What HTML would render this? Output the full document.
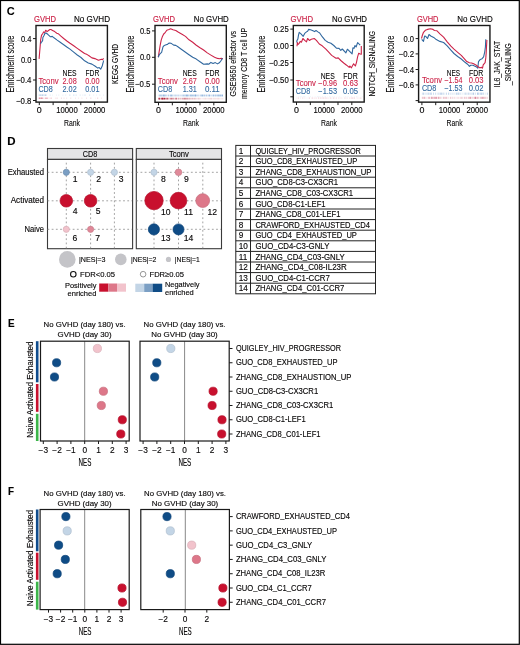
<!DOCTYPE html>
<html><head><meta charset="utf-8"><style>
html,body{margin:0;padding:0;background:#fff;overflow:hidden}
svg{display:block;will-change:transform}
text{font-family:"Liberation Sans", sans-serif}
</style></head><body>
<svg width="520" height="645" viewBox="0 0 520 645">
<rect x="0" y="0" width="520" height="645" fill="#fff"/>
<text x="6.70" y="15.30" font-size="11.6" fill="#000" textLength="8.00" lengthAdjust="spacingAndGlyphs" font-weight="bold">C</text>
<text x="34.00" y="22.00" font-size="8.6" fill="#cc2449" stroke="#cc2449" stroke-width="0.15" textLength="22.00" lengthAdjust="spacingAndGlyphs">GVHD</text>
<text x="74.00" y="22.00" font-size="8.6" stroke="#231f20" stroke-width="0.15" textLength="36.00" lengthAdjust="spacingAndGlyphs">No GVHD</text>
<rect x="36.00" y="25.50" width="71.40" height="76.60" fill="none" stroke="#1a1a1a" stroke-width="1.4"/>
<line x1="33.00" y1="38.60" x2="36.00" y2="38.60" stroke="#1a1a1a" stroke-width="1"/>
<text x="31.40" y="41.70" font-size="8.9" stroke="#231f20" stroke-width="0.15" text-anchor="end" textLength="10.50" lengthAdjust="spacingAndGlyphs">0.4</text>
<line x1="33.00" y1="59.50" x2="36.00" y2="59.50" stroke="#1a1a1a" stroke-width="1"/>
<text x="31.40" y="62.60" font-size="8.9" stroke="#231f20" stroke-width="0.15" text-anchor="end" textLength="10.50" lengthAdjust="spacingAndGlyphs">0.0</text>
<line x1="33.00" y1="80.00" x2="36.00" y2="80.00" stroke="#1a1a1a" stroke-width="1"/>
<text x="31.40" y="83.10" font-size="8.9" stroke="#231f20" stroke-width="0.15" text-anchor="end" textLength="15.40" lengthAdjust="spacingAndGlyphs">−0.4</text>
<line x1="33.00" y1="100.50" x2="36.00" y2="100.50" stroke="#1a1a1a" stroke-width="1"/>
<text x="31.40" y="103.60" font-size="8.9" stroke="#231f20" stroke-width="0.15" text-anchor="end" textLength="15.40" lengthAdjust="spacingAndGlyphs">−0.8</text>
<line x1="39.30" y1="102.10" x2="39.30" y2="105.10" stroke="#1a1a1a" stroke-width="1"/>
<line x1="53.13" y1="102.10" x2="53.13" y2="105.10" stroke="#1a1a1a" stroke-width="1"/>
<line x1="66.96" y1="102.10" x2="66.96" y2="105.10" stroke="#1a1a1a" stroke-width="1"/>
<line x1="80.79" y1="102.10" x2="80.79" y2="105.10" stroke="#1a1a1a" stroke-width="1"/>
<line x1="94.62" y1="102.10" x2="94.62" y2="105.10" stroke="#1a1a1a" stroke-width="1"/>
<text x="39.30" y="113.20" font-size="8.9" stroke="#231f20" stroke-width="0.15" text-anchor="middle">0</text>
<text x="66.96" y="113.20" font-size="8.9" stroke="#231f20" stroke-width="0.15" text-anchor="middle" textLength="21.50" lengthAdjust="spacingAndGlyphs">10000</text>
<text x="94.62" y="113.20" font-size="8.9" stroke="#231f20" stroke-width="0.15" text-anchor="middle" textLength="21.50" lengthAdjust="spacingAndGlyphs">20000</text>
<text x="72.00" y="125.90" font-size="9.9" stroke="#231f20" stroke-width="0.1" text-anchor="middle" textLength="16.00" lengthAdjust="spacingAndGlyphs">Rank</text>
<text x="14.10" y="64.10" font-size="10.0" stroke="#231f20" stroke-width="0.1" text-anchor="middle" textLength="57.00" lengthAdjust="spacingAndGlyphs" transform="rotate(-90 14.10 64.10)">Enrichment score</text>
<text x="117.60" y="63.90" font-size="9.9" stroke="#231f20" stroke-width="0.1" text-anchor="middle" textLength="40.00" lengthAdjust="spacingAndGlyphs" transform="rotate(-90 117.60 63.90)">KEGG GVHD</text>
<text x="153.00" y="22.00" font-size="8.6" fill="#cc2449" stroke="#cc2449" stroke-width="0.15" textLength="22.00" lengthAdjust="spacingAndGlyphs">GVHD</text>
<text x="193.80" y="22.00" font-size="8.6" stroke="#231f20" stroke-width="0.15" textLength="35.00" lengthAdjust="spacingAndGlyphs">No GVHD</text>
<rect x="155.00" y="25.45" width="71.30" height="76.85" fill="none" stroke="#1a1a1a" stroke-width="1.4"/>
<line x1="152.00" y1="30.90" x2="155.00" y2="30.90" stroke="#1a1a1a" stroke-width="1"/>
<text x="150.40" y="34.00" font-size="8.9" stroke="#231f20" stroke-width="0.15" text-anchor="end" textLength="10.50" lengthAdjust="spacingAndGlyphs">0.5</text>
<line x1="152.00" y1="57.30" x2="155.00" y2="57.30" stroke="#1a1a1a" stroke-width="1"/>
<text x="150.40" y="60.40" font-size="8.9" stroke="#231f20" stroke-width="0.15" text-anchor="end" textLength="10.50" lengthAdjust="spacingAndGlyphs">0.0</text>
<line x1="152.00" y1="84.20" x2="155.00" y2="84.20" stroke="#1a1a1a" stroke-width="1"/>
<text x="150.40" y="87.30" font-size="8.9" stroke="#231f20" stroke-width="0.15" text-anchor="end" textLength="15.40" lengthAdjust="spacingAndGlyphs">−0.5</text>
<line x1="158.50" y1="102.30" x2="158.50" y2="105.30" stroke="#1a1a1a" stroke-width="1"/>
<line x1="172.33" y1="102.30" x2="172.33" y2="105.30" stroke="#1a1a1a" stroke-width="1"/>
<line x1="186.16" y1="102.30" x2="186.16" y2="105.30" stroke="#1a1a1a" stroke-width="1"/>
<line x1="199.99" y1="102.30" x2="199.99" y2="105.30" stroke="#1a1a1a" stroke-width="1"/>
<line x1="213.82" y1="102.30" x2="213.82" y2="105.30" stroke="#1a1a1a" stroke-width="1"/>
<text x="158.50" y="113.20" font-size="8.9" stroke="#231f20" stroke-width="0.15" text-anchor="middle">0</text>
<text x="186.16" y="113.20" font-size="8.9" stroke="#231f20" stroke-width="0.15" text-anchor="middle" textLength="21.50" lengthAdjust="spacingAndGlyphs">10000</text>
<text x="213.82" y="113.20" font-size="8.9" stroke="#231f20" stroke-width="0.15" text-anchor="middle" textLength="21.50" lengthAdjust="spacingAndGlyphs">20000</text>
<text x="190.95" y="125.90" font-size="9.9" stroke="#231f20" stroke-width="0.1" text-anchor="middle" textLength="16.00" lengthAdjust="spacingAndGlyphs">Rank</text>
<text x="134.00" y="64.10" font-size="10.0" stroke="#231f20" stroke-width="0.1" text-anchor="middle" textLength="57.00" lengthAdjust="spacingAndGlyphs" transform="rotate(-90 134.00 64.10)">Enrichment score</text>
<text x="236.40" y="63.70" font-size="9.6" stroke="#231f20" stroke-width="0.1" text-anchor="middle" textLength="65.80" lengthAdjust="spacingAndGlyphs" transform="rotate(-90 236.40 63.70)">GSE9650 effector vs</text>
<text x="247.30" y="63.40" font-size="9.6" stroke="#231f20" stroke-width="0.1" text-anchor="middle" textLength="71.30" lengthAdjust="spacingAndGlyphs" transform="rotate(-90 247.30 63.40)">memory CD8 T cell UP</text>
<text x="290.60" y="22.00" font-size="8.6" fill="#cc2449" stroke="#cc2449" stroke-width="0.15" textLength="22.40" lengthAdjust="spacingAndGlyphs">GVHD</text>
<text x="332.00" y="22.00" font-size="8.6" stroke="#231f20" stroke-width="0.15" textLength="35.00" lengthAdjust="spacingAndGlyphs">No GVHD</text>
<rect x="293.30" y="25.50" width="70.90" height="76.55" fill="none" stroke="#1a1a1a" stroke-width="1.4"/>
<line x1="290.30" y1="29.10" x2="293.30" y2="29.10" stroke="#1a1a1a" stroke-width="1"/>
<text x="288.70" y="32.20" font-size="8.9" stroke="#231f20" stroke-width="0.15" text-anchor="end" textLength="15.00" lengthAdjust="spacingAndGlyphs">0.25</text>
<line x1="290.30" y1="45.50" x2="293.30" y2="45.50" stroke="#1a1a1a" stroke-width="1"/>
<text x="288.70" y="48.60" font-size="8.9" stroke="#231f20" stroke-width="0.15" text-anchor="end" textLength="15.00" lengthAdjust="spacingAndGlyphs">0.00</text>
<line x1="290.30" y1="62.50" x2="293.30" y2="62.50" stroke="#1a1a1a" stroke-width="1"/>
<text x="288.70" y="65.60" font-size="8.9" stroke="#231f20" stroke-width="0.15" text-anchor="end" textLength="19.60" lengthAdjust="spacingAndGlyphs">−0.25</text>
<line x1="290.30" y1="80.00" x2="293.30" y2="80.00" stroke="#1a1a1a" stroke-width="1"/>
<text x="288.70" y="83.10" font-size="8.9" stroke="#231f20" stroke-width="0.15" text-anchor="end" textLength="19.60" lengthAdjust="spacingAndGlyphs">−0.50</text>
<line x1="290.30" y1="96.80" x2="293.30" y2="96.80" stroke="#1a1a1a" stroke-width="1"/>
<line x1="296.50" y1="102.05" x2="296.50" y2="105.05" stroke="#1a1a1a" stroke-width="1"/>
<line x1="310.33" y1="102.05" x2="310.33" y2="105.05" stroke="#1a1a1a" stroke-width="1"/>
<line x1="324.16" y1="102.05" x2="324.16" y2="105.05" stroke="#1a1a1a" stroke-width="1"/>
<line x1="337.99" y1="102.05" x2="337.99" y2="105.05" stroke="#1a1a1a" stroke-width="1"/>
<line x1="351.82" y1="102.05" x2="351.82" y2="105.05" stroke="#1a1a1a" stroke-width="1"/>
<text x="296.50" y="113.20" font-size="8.9" stroke="#231f20" stroke-width="0.15" text-anchor="middle">0</text>
<text x="324.16" y="113.20" font-size="8.9" stroke="#231f20" stroke-width="0.15" text-anchor="middle" textLength="21.50" lengthAdjust="spacingAndGlyphs">10000</text>
<text x="351.82" y="113.20" font-size="8.9" stroke="#231f20" stroke-width="0.15" text-anchor="middle" textLength="21.50" lengthAdjust="spacingAndGlyphs">20000</text>
<text x="329.05" y="125.90" font-size="9.9" stroke="#231f20" stroke-width="0.1" text-anchor="middle" textLength="16.00" lengthAdjust="spacingAndGlyphs">Rank</text>
<text x="264.60" y="64.10" font-size="10.0" stroke="#231f20" stroke-width="0.1" text-anchor="middle" textLength="57.00" lengthAdjust="spacingAndGlyphs" transform="rotate(-90 264.60 64.10)">Enrichment score</text>
<text x="374.60" y="63.70" font-size="9.9" stroke="#231f20" stroke-width="0.1" text-anchor="middle" textLength="65.80" lengthAdjust="spacingAndGlyphs" transform="rotate(-90 374.60 63.70)">NOTCH_SIGNALING</text>
<text x="416.90" y="22.00" font-size="8.6" fill="#cc2449" stroke="#cc2449" stroke-width="0.15" textLength="21.60" lengthAdjust="spacingAndGlyphs">GVHD</text>
<text x="457.30" y="22.00" font-size="8.6" stroke="#231f20" stroke-width="0.15" textLength="35.40" lengthAdjust="spacingAndGlyphs">No GVHD</text>
<rect x="418.60" y="25.50" width="71.35" height="76.65" fill="none" stroke="#1a1a1a" stroke-width="1.4"/>
<line x1="415.60" y1="38.60" x2="418.60" y2="38.60" stroke="#1a1a1a" stroke-width="1"/>
<text x="414.00" y="41.70" font-size="8.9" stroke="#231f20" stroke-width="0.15" text-anchor="end" textLength="10.50" lengthAdjust="spacingAndGlyphs">0.0</text>
<line x1="415.60" y1="53.90" x2="418.60" y2="53.90" stroke="#1a1a1a" stroke-width="1"/>
<text x="414.00" y="57.00" font-size="8.9" stroke="#231f20" stroke-width="0.15" text-anchor="end" textLength="15.40" lengthAdjust="spacingAndGlyphs">−0.2</text>
<line x1="415.60" y1="69.50" x2="418.60" y2="69.50" stroke="#1a1a1a" stroke-width="1"/>
<text x="414.00" y="72.60" font-size="8.9" stroke="#231f20" stroke-width="0.15" text-anchor="end" textLength="15.40" lengthAdjust="spacingAndGlyphs">−0.4</text>
<line x1="415.60" y1="84.90" x2="418.60" y2="84.90" stroke="#1a1a1a" stroke-width="1"/>
<text x="414.00" y="88.00" font-size="8.9" stroke="#231f20" stroke-width="0.15" text-anchor="end" textLength="15.40" lengthAdjust="spacingAndGlyphs">−0.6</text>
<line x1="415.60" y1="100.60" x2="418.60" y2="100.60" stroke="#1a1a1a" stroke-width="1"/>
<line x1="421.90" y1="102.15" x2="421.90" y2="105.15" stroke="#1a1a1a" stroke-width="1"/>
<line x1="435.73" y1="102.15" x2="435.73" y2="105.15" stroke="#1a1a1a" stroke-width="1"/>
<line x1="449.56" y1="102.15" x2="449.56" y2="105.15" stroke="#1a1a1a" stroke-width="1"/>
<line x1="463.39" y1="102.15" x2="463.39" y2="105.15" stroke="#1a1a1a" stroke-width="1"/>
<line x1="477.22" y1="102.15" x2="477.22" y2="105.15" stroke="#1a1a1a" stroke-width="1"/>
<text x="421.90" y="113.20" font-size="8.9" stroke="#231f20" stroke-width="0.15" text-anchor="middle">0</text>
<text x="449.56" y="113.20" font-size="8.9" stroke="#231f20" stroke-width="0.15" text-anchor="middle" textLength="21.50" lengthAdjust="spacingAndGlyphs">10000</text>
<text x="477.22" y="113.20" font-size="8.9" stroke="#231f20" stroke-width="0.15" text-anchor="middle" textLength="21.50" lengthAdjust="spacingAndGlyphs">20000</text>
<text x="454.57" y="125.90" font-size="9.9" stroke="#231f20" stroke-width="0.1" text-anchor="middle" textLength="16.00" lengthAdjust="spacingAndGlyphs">Rank</text>
<text x="394.20" y="64.10" font-size="10.0" stroke="#231f20" stroke-width="0.1" text-anchor="middle" textLength="57.00" lengthAdjust="spacingAndGlyphs" transform="rotate(-90 394.20 64.10)">Enrichment score</text>
<text x="500.10" y="64.00" font-size="8.9" stroke="#231f20" stroke-width="0.1" text-anchor="middle" textLength="46.50" lengthAdjust="spacingAndGlyphs" transform="rotate(-90 500.10 64.00)">IL6_JAK_STAT</text>
<text x="511.40" y="64.30" font-size="8.9" stroke="#231f20" stroke-width="0.1" text-anchor="middle" textLength="41.70" lengthAdjust="spacingAndGlyphs" transform="rotate(-90 511.40 64.30)">_SIGNALING</text>
<polyline points="39.1,58.9 40.2,45.8 40.7,39.5 41.5,35.4 42.6,33.7 43.6,31.9 44.7,32.6 45.7,30.2 47.1,31.6 48.5,30.5 49.9,29.5 50.9,29.5 52.6,30.4 54.7,31.6 56.8,33.2 58.2,33.7 60.9,36.1 63.7,38.5 67.2,41.3 70.0,43.3 73.7,45.8 77.3,48.4 81.0,51.0 84.6,53.5 87.2,54.6 89.0,55.7 91.9,57.9 94.9,58.6 96.3,59.2 98.5,60.3 100.0,59.7 101.4,59.2 102.5,59.7 103.6,58.4" fill="none" stroke="#cc2449" stroke-width="1.1" stroke-linejoin="round"/>
<polyline points="40.5,43.7 41.5,42.3 42.6,40.6 42.9,37.5 44.0,35.4 45.0,33.3 46.0,33.0 47.8,34.3 50.5,36.8 52.3,36.4 54.0,37.8 56.8,39.9 60.2,42.3 63.7,44.7 67.2,47.2 70.0,49.1 73.7,52.1 77.3,55.0 81.0,57.5 84.6,60.8 88.3,63.0 91.9,64.1 94.9,66.0 97.8,68.1 99.2,67.6 100.7,69.2 102.2,66.0 103.3,61.9 103.6,60.5" fill="none" stroke="#31689f" stroke-width="1.1" stroke-linejoin="round"/>
<polyline points="158.3,57.2 159.2,51.3 160.2,45.1 161.2,40.2 162.3,36.8 163.7,34.0 165.4,32.3 166.8,30.2 168.9,29.5 170.6,28.8 173.0,29.8 175.8,30.5 178.5,32.3 182.0,34.3 185.5,36.4 189.0,39.8 192.7,42.3 196.3,45.2 200.0,47.8 203.6,50.0 207.3,52.9 210.9,55.1 214.6,57.3 217.5,58.4 219.7,58.8 221.2,58.2 222.3,58.8 222.8,58.4" fill="none" stroke="#cc2449" stroke-width="1.1" stroke-linejoin="round"/>
<polyline points="158.3,57.2 159.2,54.8 160.2,53.7 161.6,52.4 162.3,49.6 163.0,46.8 164.3,45.4 166.1,44.7 167.5,44.4 168.5,43.4 169.9,43.0 171.6,43.6 173.7,45.1 175.8,45.4 177.9,46.8 181.3,49.2 184.8,51.7 189.0,54.7 192.7,57.3 196.3,59.1 200.0,61.7 203.6,64.2 207.3,63.9 208.7,64.2 210.9,62.4 213.1,63.5 215.3,62.6 217.5,63.9 219.3,62.8 220.8,61.0 221.9,59.1 222.6,58.4" fill="none" stroke="#31689f" stroke-width="1.1" stroke-linejoin="round"/>
<polyline points="296.7,42.5 297.0,40.4 297.8,39.3 298.5,35.2 299.2,32.3 301.0,33.8 303.2,36.3 304.7,33.4 306.5,31.9 307.6,31.2 308.7,29.4 310.5,29.8 312.4,30.5 314.6,31.6 316.0,30.5 317.9,31.9 319.7,33.0 322.2,36.7 325.2,40.4 328.0,42.2 330.9,43.3 333.8,45.5 336.4,48.1 339.0,48.4 340.8,50.3 342.3,49.0 345.9,52.8 347.4,49.2 352.1,53.9 352.9,47.7 354.0,48.4 355.0,45.5 356.1,47.0 357.6,42.6 358.7,43.7 360.2,45.1" fill="none" stroke="#31689f" stroke-width="1.1" stroke-linejoin="round"/>
<polyline points="297.0,46.2 297.4,42.5 298.1,44.4 299.2,43.3 300.3,41.4 301.4,42.2 302.9,38.5 304.7,40.4 306.5,41.8 307.6,38.5 309.4,40.4 311.3,39.3 314.2,38.5 316.4,40.4 319.3,44.0 322.2,45.8 325.9,49.1 328.0,51.4 331.7,55.4 336.0,58.3 338.2,57.9 340.8,60.5 343.7,63.0 346.6,65.2 349.2,67.4 349.9,66.0 351.4,67.8 353.6,63.8 355.4,66.0 356.5,62.3 357.6,56.8 358.7,53.2 360.2,53.9 361.3,54.3 361.3,45.9" fill="none" stroke="#cc2449" stroke-width="1.1" stroke-linejoin="round"/>
<polyline points="421.7,39.3 423.5,41.4 424.6,36.0 425.7,36.3 427.5,38.5 429.0,34.5 430.8,36.0 433.7,37.4 436.3,39.6 439.9,41.4 443.6,42.5 447.2,45.8 450.9,50.2 454.0,53.5 457.7,56.5 461.3,59.0 465.0,62.3 467.9,64.5 469.4,66.3 470.8,65.2 473.0,65.2 474.5,66.0 476.7,67.1 477.8,68.2 478.5,61.6 480.3,59.4 482.1,58.7 483.6,56.8 484.7,52.1 485.4,47.0 485.8,39.3" fill="none" stroke="#31689f" stroke-width="1.1" stroke-linejoin="round"/>
<polyline points="421.5,38.5 422.4,35.2 423.5,32.3 425.3,30.3 427.5,29.4 430.4,28.8 433.0,29.4 434.4,30.5 437.0,30.8 439.9,33.8 443.6,37.1 447.2,41.8 450.9,46.2 454.0,49.2 457.7,52.4 461.3,55.4 464.2,58.7 466.8,61.6 469.4,62.7 471.5,63.0 473.7,63.8 475.9,64.9 478.1,66.7 479.6,67.8 481.8,67.4 482.5,68.2 483.2,64.9 485.1,62.7 485.8,57.9 486.2,52.8 486.5,47.0 486.9,40.0" fill="none" stroke="#cc2449" stroke-width="1.1" stroke-linejoin="round"/>
<rect x="38.80" y="94.40" width="0.88" height="1.50" fill="#5b8fc7" fill-opacity="0.43"/>
<rect x="40.08" y="94.40" width="0.85" height="1.50" fill="#5b8fc7" fill-opacity="0.44"/>
<rect x="41.06" y="94.40" width="0.86" height="1.50" fill="#5b8fc7" fill-opacity="0.30"/>
<rect x="42.08" y="94.40" width="0.65" height="1.50" fill="#5b8fc7" fill-opacity="0.60"/>
<rect x="42.80" y="94.40" width="1.00" height="1.50" fill="#5b8fc7" fill-opacity="0.25"/>
<rect x="43.87" y="94.40" width="1.09" height="1.50" fill="#5b8fc7" fill-opacity="0.23"/>
<rect x="45.19" y="94.40" width="0.91" height="1.50" fill="#5b8fc7" fill-opacity="0.53"/>
<rect x="46.00" y="94.40" width="0.94" height="1.50" fill="#6a9ad0" fill-opacity="0.14"/>
<rect x="49.79" y="94.40" width="0.69" height="1.50" fill="#6a9ad0" fill-opacity="0.27"/>
<rect x="52.13" y="94.40" width="0.71" height="1.50" fill="#6a9ad0" fill-opacity="0.12"/>
<rect x="56.08" y="94.40" width="0.87" height="1.50" fill="#6a9ad0" fill-opacity="0.12"/>
<rect x="58.36" y="94.40" width="0.82" height="1.50" fill="#6a9ad0" fill-opacity="0.15"/>
<rect x="62.64" y="94.40" width="0.61" height="1.50" fill="#6a9ad0" fill-opacity="0.22"/>
<rect x="65.12" y="94.40" width="1.04" height="1.50" fill="#6a9ad0" fill-opacity="0.12"/>
<rect x="69.31" y="94.40" width="1.01" height="1.50" fill="#6a9ad0" fill-opacity="0.26"/>
<rect x="73.30" y="94.40" width="1.00" height="1.50" fill="#6a9ad0" fill-opacity="0.29"/>
<rect x="75.72" y="94.40" width="0.84" height="1.50" fill="#6a9ad0" fill-opacity="0.27"/>
<rect x="79.74" y="94.40" width="0.81" height="1.50" fill="#6a9ad0" fill-opacity="0.21"/>
<rect x="82.50" y="94.40" width="0.76" height="1.50" fill="#6a9ad0" fill-opacity="0.18"/>
<rect x="84.48" y="94.40" width="1.00" height="1.50" fill="#6a9ad0" fill-opacity="0.26"/>
<rect x="89.23" y="94.40" width="0.88" height="1.50" fill="#6a9ad0" fill-opacity="0.24"/>
<rect x="93.23" y="94.40" width="0.94" height="1.50" fill="#6a9ad0" fill-opacity="0.12"/>
<rect x="96.24" y="94.40" width="0.70" height="1.50" fill="#6a9ad0" fill-opacity="0.13"/>
<rect x="99.52" y="94.40" width="0.83" height="1.50" fill="#6a9ad0" fill-opacity="0.14"/>
<rect x="103.05" y="94.40" width="0.67" height="1.50" fill="#6a9ad0" fill-opacity="0.17"/>
<rect x="38.80" y="97.50" width="0.93" height="1.50" fill="#c8304f" fill-opacity="0.57"/>
<rect x="39.73" y="97.50" width="0.61" height="1.50" fill="#c8304f" fill-opacity="0.36"/>
<rect x="40.43" y="97.50" width="1.01" height="1.50" fill="#c8304f" fill-opacity="0.44"/>
<rect x="41.39" y="97.50" width="0.88" height="1.50" fill="#c8304f" fill-opacity="0.65"/>
<rect x="42.31" y="97.50" width="0.82" height="1.50" fill="#c8304f" fill-opacity="0.36"/>
<rect x="43.50" y="97.50" width="0.95" height="1.50" fill="#c8304f" fill-opacity="0.17"/>
<rect x="45.00" y="97.50" width="0.74" height="1.50" fill="#c8304f" fill-opacity="0.43"/>
<rect x="45.98" y="97.50" width="0.93" height="1.50" fill="#c8304f" fill-opacity="0.37"/>
<rect x="47.02" y="97.50" width="0.80" height="1.50" fill="#c8304f" fill-opacity="0.35"/>
<rect x="48.68" y="97.50" width="0.71" height="1.50" fill="#c8304f" fill-opacity="0.17"/>
<rect x="50.51" y="97.50" width="0.73" height="1.50" fill="#c8304f" fill-opacity="0.25"/>
<rect x="51.00" y="97.50" width="0.61" height="1.50" fill="#c8506a" fill-opacity="0.24"/>
<rect x="54.96" y="97.50" width="1.09" height="1.50" fill="#c8506a" fill-opacity="0.10"/>
<rect x="56.61" y="97.50" width="0.94" height="1.50" fill="#c8506a" fill-opacity="0.23"/>
<rect x="60.95" y="97.50" width="0.72" height="1.50" fill="#c8506a" fill-opacity="0.25"/>
<rect x="63.63" y="97.50" width="0.74" height="1.50" fill="#c8506a" fill-opacity="0.20"/>
<rect x="66.08" y="97.50" width="1.03" height="1.50" fill="#c8506a" fill-opacity="0.12"/>
<rect x="70.48" y="97.50" width="0.71" height="1.50" fill="#c8506a" fill-opacity="0.21"/>
<rect x="75.04" y="97.50" width="0.72" height="1.50" fill="#c8506a" fill-opacity="0.16"/>
<rect x="78.09" y="97.50" width="0.64" height="1.50" fill="#c8506a" fill-opacity="0.15"/>
<rect x="81.50" y="97.50" width="0.88" height="1.50" fill="#c8506a" fill-opacity="0.14"/>
<rect x="86.08" y="97.50" width="0.80" height="1.50" fill="#c8506a" fill-opacity="0.19"/>
<rect x="90.44" y="97.50" width="0.85" height="1.50" fill="#c8506a" fill-opacity="0.25"/>
<rect x="95.06" y="97.50" width="0.67" height="1.50" fill="#c8506a" fill-opacity="0.08"/>
<rect x="97.22" y="97.50" width="0.95" height="1.50" fill="#c8506a" fill-opacity="0.24"/>
<rect x="101.12" y="97.50" width="0.85" height="1.50" fill="#c8506a" fill-opacity="0.13"/>
<rect x="158.50" y="94.60" width="0.94" height="1.80" fill="#4a86c8" fill-opacity="0.31"/>
<rect x="159.41" y="94.60" width="0.71" height="1.80" fill="#4a86c8" fill-opacity="0.48"/>
<rect x="160.44" y="94.60" width="0.86" height="1.80" fill="#4a86c8" fill-opacity="0.65"/>
<rect x="161.25" y="94.60" width="0.60" height="1.80" fill="#4a86c8" fill-opacity="0.35"/>
<rect x="161.94" y="94.60" width="0.63" height="1.80" fill="#4a86c8" fill-opacity="0.53"/>
<rect x="162.98" y="94.60" width="0.72" height="1.80" fill="#4a86c8" fill-opacity="0.35"/>
<rect x="163.41" y="94.60" width="0.97" height="1.80" fill="#4a86c8" fill-opacity="0.75"/>
<rect x="164.51" y="94.60" width="0.62" height="1.80" fill="#4a86c8" fill-opacity="0.55"/>
<rect x="165.18" y="94.60" width="0.66" height="1.80" fill="#4a86c8" fill-opacity="0.49"/>
<rect x="166.34" y="94.60" width="0.68" height="1.80" fill="#4a86c8" fill-opacity="0.42"/>
<rect x="167.39" y="94.60" width="1.06" height="1.80" fill="#4a86c8" fill-opacity="0.23"/>
<rect x="168.15" y="94.60" width="0.77" height="1.80" fill="#4a86c8" fill-opacity="0.41"/>
<rect x="168.94" y="94.60" width="0.62" height="1.80" fill="#4a86c8" fill-opacity="0.26"/>
<rect x="170.03" y="94.60" width="0.99" height="1.80" fill="#4a86c8" fill-opacity="0.28"/>
<rect x="170.60" y="94.60" width="1.05" height="1.80" fill="#4a86c8" fill-opacity="0.59"/>
<rect x="171.60" y="94.60" width="0.89" height="1.80" fill="#4a86c8" fill-opacity="0.50"/>
<rect x="172.59" y="94.60" width="0.84" height="1.80" fill="#4a86c8" fill-opacity="0.23"/>
<rect x="173.65" y="94.60" width="1.06" height="1.80" fill="#4a86c8" fill-opacity="0.26"/>
<rect x="174.76" y="94.60" width="0.78" height="1.80" fill="#4a86c8" fill-opacity="0.35"/>
<rect x="175.52" y="94.60" width="1.10" height="1.80" fill="#4a86c8" fill-opacity="0.34"/>
<rect x="176.23" y="94.60" width="0.65" height="1.80" fill="#4a86c8" fill-opacity="0.10"/>
<rect x="177.20" y="94.60" width="0.85" height="1.80" fill="#4a86c8" fill-opacity="0.30"/>
<rect x="178.00" y="94.60" width="0.97" height="1.80" fill="#4a86c8" fill-opacity="0.21"/>
<rect x="178.58" y="94.60" width="0.88" height="1.80" fill="#4a86c8" fill-opacity="0.22"/>
<rect x="179.47" y="94.60" width="0.69" height="1.80" fill="#4a86c8" fill-opacity="0.13"/>
<rect x="180.15" y="94.60" width="0.77" height="1.80" fill="#4a86c8" fill-opacity="0.28"/>
<rect x="181.03" y="94.60" width="0.65" height="1.80" fill="#4a86c8" fill-opacity="0.15"/>
<rect x="181.48" y="94.60" width="0.99" height="1.80" fill="#4a86c8" fill-opacity="0.26"/>
<rect x="182.18" y="94.60" width="0.94" height="1.80" fill="#4a86c8" fill-opacity="0.23"/>
<rect x="183.30" y="94.60" width="0.80" height="1.80" fill="#4a86c8" fill-opacity="0.58"/>
<rect x="184.49" y="94.60" width="0.90" height="1.80" fill="#4a86c8" fill-opacity="0.58"/>
<rect x="185.60" y="94.60" width="0.79" height="1.80" fill="#4a86c8" fill-opacity="0.39"/>
<rect x="186.20" y="94.60" width="0.68" height="1.80" fill="#4a86c8" fill-opacity="0.55"/>
<rect x="186.65" y="94.60" width="0.99" height="1.80" fill="#4a86c8" fill-opacity="0.52"/>
<rect x="187.44" y="94.60" width="0.63" height="1.80" fill="#4a86c8" fill-opacity="0.53"/>
<rect x="188.05" y="94.60" width="0.81" height="1.80" fill="#4a86c8" fill-opacity="0.30"/>
<rect x="188.58" y="94.60" width="0.77" height="1.80" fill="#4a86c8" fill-opacity="0.21"/>
<rect x="189.70" y="94.60" width="0.97" height="1.80" fill="#4a86c8" fill-opacity="0.59"/>
<rect x="190.48" y="94.60" width="1.08" height="1.80" fill="#4a86c8" fill-opacity="0.29"/>
<rect x="191.30" y="94.60" width="0.61" height="1.80" fill="#4a86c8" fill-opacity="0.49"/>
<rect x="191.87" y="94.60" width="1.00" height="1.80" fill="#4a86c8" fill-opacity="0.53"/>
<rect x="192.98" y="94.60" width="0.81" height="1.80" fill="#4a86c8" fill-opacity="0.43"/>
<rect x="193.84" y="94.60" width="0.75" height="1.80" fill="#4a86c8" fill-opacity="0.54"/>
<rect x="194.67" y="94.60" width="0.98" height="1.80" fill="#4a86c8" fill-opacity="0.30"/>
<rect x="195.08" y="94.60" width="1.08" height="1.80" fill="#4a86c8" fill-opacity="0.47"/>
<rect x="195.50" y="94.60" width="0.92" height="1.80" fill="#4a86c8" fill-opacity="0.43"/>
<rect x="196.58" y="94.60" width="0.73" height="1.80" fill="#4a86c8" fill-opacity="0.21"/>
<rect x="197.30" y="94.60" width="1.05" height="1.80" fill="#4a86c8" fill-opacity="0.29"/>
<rect x="197.81" y="94.60" width="0.65" height="1.80" fill="#4a86c8" fill-opacity="0.11"/>
<rect x="198.23" y="94.60" width="0.67" height="1.80" fill="#4a86c8" fill-opacity="0.18"/>
<rect x="199.33" y="94.60" width="0.66" height="1.80" fill="#4a86c8" fill-opacity="0.23"/>
<rect x="200.16" y="94.60" width="0.85" height="1.80" fill="#4a86c8" fill-opacity="0.32"/>
<rect x="200.73" y="94.60" width="0.69" height="1.80" fill="#4a86c8" fill-opacity="0.25"/>
<rect x="201.43" y="94.60" width="0.88" height="1.80" fill="#4a86c8" fill-opacity="0.48"/>
<rect x="201.87" y="94.60" width="1.04" height="1.80" fill="#4a86c8" fill-opacity="0.48"/>
<rect x="202.89" y="94.60" width="0.60" height="1.80" fill="#4a86c8" fill-opacity="0.51"/>
<rect x="203.66" y="94.60" width="0.98" height="1.80" fill="#4a86c8" fill-opacity="0.21"/>
<rect x="204.20" y="94.60" width="0.73" height="1.80" fill="#4a86c8" fill-opacity="0.48"/>
<rect x="205.16" y="94.60" width="0.62" height="1.80" fill="#4a86c8" fill-opacity="0.31"/>
<rect x="205.87" y="94.60" width="1.05" height="1.80" fill="#4a86c8" fill-opacity="0.31"/>
<rect x="206.51" y="94.60" width="0.87" height="1.80" fill="#4a86c8" fill-opacity="0.39"/>
<rect x="207.67" y="94.60" width="0.90" height="1.80" fill="#4a86c8" fill-opacity="0.22"/>
<rect x="208.47" y="94.60" width="1.08" height="1.80" fill="#4a86c8" fill-opacity="0.49"/>
<rect x="209.12" y="94.60" width="0.86" height="1.80" fill="#4a86c8" fill-opacity="0.47"/>
<rect x="209.97" y="94.60" width="1.01" height="1.80" fill="#4a86c8" fill-opacity="0.21"/>
<rect x="211.15" y="94.60" width="0.76" height="1.80" fill="#4a86c8" fill-opacity="0.33"/>
<rect x="212.34" y="94.60" width="0.64" height="1.80" fill="#4a86c8" fill-opacity="0.23"/>
<rect x="212.80" y="94.60" width="0.98" height="1.80" fill="#4a86c8" fill-opacity="0.52"/>
<rect x="213.56" y="94.60" width="0.61" height="1.80" fill="#4a86c8" fill-opacity="0.44"/>
<rect x="214.48" y="94.60" width="0.86" height="1.80" fill="#4a86c8" fill-opacity="0.37"/>
<rect x="215.19" y="94.60" width="0.71" height="1.80" fill="#4a86c8" fill-opacity="0.35"/>
<rect x="215.63" y="94.60" width="0.72" height="1.80" fill="#4a86c8" fill-opacity="0.36"/>
<rect x="216.59" y="94.60" width="0.96" height="1.80" fill="#4a86c8" fill-opacity="0.52"/>
<rect x="217.36" y="94.60" width="0.79" height="1.80" fill="#4a86c8" fill-opacity="0.28"/>
<rect x="218.15" y="94.60" width="1.08" height="1.80" fill="#4a86c8" fill-opacity="0.45"/>
<rect x="218.61" y="94.60" width="0.85" height="1.80" fill="#4a86c8" fill-opacity="0.38"/>
<rect x="219.59" y="94.60" width="0.99" height="1.80" fill="#4a86c8" fill-opacity="0.55"/>
<rect x="220.49" y="94.60" width="0.93" height="1.80" fill="#4a86c8" fill-opacity="0.50"/>
<rect x="221.58" y="94.60" width="0.94" height="1.80" fill="#4a86c8" fill-opacity="0.47"/>
<rect x="222.17" y="94.60" width="0.79" height="1.80" fill="#4a86c8" fill-opacity="0.57"/>
<rect x="158.50" y="97.80" width="0.67" height="1.70" fill="#a81028" fill-opacity="0.97"/>
<rect x="158.92" y="97.80" width="0.69" height="1.70" fill="#a81028" fill-opacity="1.00"/>
<rect x="159.42" y="97.80" width="0.77" height="1.70" fill="#a81028" fill-opacity="0.76"/>
<rect x="160.53" y="97.80" width="1.08" height="1.70" fill="#a81028" fill-opacity="0.46"/>
<rect x="161.18" y="97.80" width="1.07" height="1.70" fill="#a81028" fill-opacity="0.72"/>
<rect x="162.13" y="97.80" width="0.95" height="1.70" fill="#a81028" fill-opacity="0.95"/>
<rect x="162.57" y="97.80" width="0.89" height="1.70" fill="#a81028" fill-opacity="0.92"/>
<rect x="163.22" y="97.80" width="1.02" height="1.70" fill="#a81028" fill-opacity="0.43"/>
<rect x="164.08" y="97.80" width="0.99" height="1.70" fill="#a81028" fill-opacity="0.96"/>
<rect x="165.25" y="97.80" width="0.95" height="1.70" fill="#a81028" fill-opacity="0.59"/>
<rect x="166.14" y="97.80" width="1.08" height="1.70" fill="#a81028" fill-opacity="0.40"/>
<rect x="166.79" y="97.80" width="1.08" height="1.70" fill="#a81028" fill-opacity="0.69"/>
<rect x="167.71" y="97.80" width="1.01" height="1.70" fill="#a81028" fill-opacity="0.32"/>
<rect x="168.65" y="97.80" width="0.62" height="1.70" fill="#a81028" fill-opacity="0.34"/>
<rect x="169.47" y="97.80" width="1.06" height="1.70" fill="#a81028" fill-opacity="0.25"/>
<rect x="170.28" y="97.80" width="0.80" height="1.70" fill="#a81028" fill-opacity="0.50"/>
<rect x="171.21" y="97.80" width="0.75" height="1.70" fill="#a81028" fill-opacity="0.69"/>
<rect x="171.91" y="97.80" width="0.75" height="1.70" fill="#a81028" fill-opacity="0.51"/>
<rect x="172.78" y="97.80" width="0.82" height="1.70" fill="#a81028" fill-opacity="0.48"/>
<rect x="173.72" y="97.80" width="0.64" height="1.70" fill="#a81028" fill-opacity="0.46"/>
<rect x="174.92" y="97.80" width="0.82" height="1.70" fill="#a81028" fill-opacity="0.37"/>
<rect x="175.64" y="97.80" width="1.08" height="1.70" fill="#a81028" fill-opacity="0.62"/>
<rect x="176.45" y="97.80" width="0.65" height="1.70" fill="#a81028" fill-opacity="0.37"/>
<rect x="177.57" y="97.80" width="0.87" height="1.70" fill="#a81028" fill-opacity="0.26"/>
<rect x="178.25" y="97.80" width="0.78" height="1.70" fill="#a81028" fill-opacity="0.32"/>
<rect x="178.80" y="97.80" width="0.87" height="1.70" fill="#a81028" fill-opacity="0.20"/>
<rect x="179.84" y="97.80" width="0.70" height="1.70" fill="#a81028" fill-opacity="0.44"/>
<rect x="180.79" y="97.80" width="0.81" height="1.70" fill="#a81028" fill-opacity="0.19"/>
<rect x="181.85" y="97.80" width="0.83" height="1.70" fill="#a81028" fill-opacity="0.51"/>
<rect x="182.93" y="97.80" width="0.86" height="1.70" fill="#a81028" fill-opacity="0.34"/>
<rect x="183.80" y="97.80" width="0.97" height="1.70" fill="#a81028" fill-opacity="0.51"/>
<rect x="184.58" y="97.80" width="0.92" height="1.70" fill="#a81028" fill-opacity="0.40"/>
<rect x="185.26" y="97.80" width="1.01" height="1.70" fill="#a81028" fill-opacity="0.41"/>
<rect x="186.15" y="97.80" width="0.61" height="1.70" fill="#a81028" fill-opacity="0.45"/>
<rect x="186.95" y="97.80" width="0.77" height="1.70" fill="#a81028" fill-opacity="0.34"/>
<rect x="187.48" y="97.80" width="0.82" height="1.70" fill="#a81028" fill-opacity="0.35"/>
<rect x="188.10" y="97.80" width="1.08" height="1.70" fill="#a81028" fill-opacity="0.14"/>
<rect x="188.78" y="97.80" width="0.71" height="1.70" fill="#a81028" fill-opacity="0.16"/>
<rect x="189.38" y="97.80" width="0.69" height="1.70" fill="#a81028" fill-opacity="0.37"/>
<rect x="190.01" y="97.80" width="0.83" height="1.70" fill="#a81028" fill-opacity="0.15"/>
<rect x="190.57" y="97.80" width="0.97" height="1.70" fill="#a81028" fill-opacity="0.21"/>
<rect x="191.71" y="97.80" width="0.62" height="1.70" fill="#a81028" fill-opacity="0.32"/>
<rect x="192.41" y="97.80" width="0.62" height="1.70" fill="#a81028" fill-opacity="0.31"/>
<rect x="192.98" y="97.80" width="0.79" height="1.70" fill="#a81028" fill-opacity="0.22"/>
<rect x="193.98" y="97.80" width="0.83" height="1.70" fill="#a81028" fill-opacity="0.26"/>
<rect x="194.58" y="97.80" width="0.73" height="1.70" fill="#a81028" fill-opacity="0.14"/>
<rect x="195.03" y="97.80" width="0.68" height="1.70" fill="#a81028" fill-opacity="0.23"/>
<rect x="196.14" y="97.80" width="0.63" height="1.70" fill="#a81028" fill-opacity="0.21"/>
<rect x="196.94" y="97.80" width="0.62" height="1.70" fill="#a81028" fill-opacity="0.19"/>
<rect x="197.73" y="97.80" width="0.98" height="1.70" fill="#a81028" fill-opacity="0.08"/>
<rect x="198.13" y="97.80" width="1.09" height="1.70" fill="#a81028" fill-opacity="0.18"/>
<rect x="199.21" y="97.80" width="0.87" height="1.70" fill="#a81028" fill-opacity="0.11"/>
<rect x="199.72" y="97.80" width="1.03" height="1.70" fill="#a81028" fill-opacity="0.12"/>
<rect x="200.77" y="97.80" width="0.79" height="1.70" fill="#a81028" fill-opacity="0.06"/>
<rect x="201.69" y="97.80" width="1.00" height="1.70" fill="#a81028" fill-opacity="0.08"/>
<rect x="202.80" y="97.80" width="0.78" height="1.70" fill="#a81028" fill-opacity="0.14"/>
<rect x="203.88" y="97.80" width="0.69" height="1.70" fill="#a81028" fill-opacity="0.13"/>
<rect x="204.50" y="97.80" width="1.02" height="1.70" fill="#a81028" fill-opacity="0.08"/>
<rect x="205.31" y="97.80" width="1.01" height="1.70" fill="#a81028" fill-opacity="0.16"/>
<rect x="206.49" y="97.80" width="0.80" height="1.70" fill="#a81028" fill-opacity="0.09"/>
<rect x="207.59" y="97.80" width="0.79" height="1.70" fill="#a81028" fill-opacity="0.17"/>
<rect x="208.51" y="97.80" width="0.68" height="1.70" fill="#a81028" fill-opacity="0.09"/>
<rect x="208.95" y="97.80" width="0.72" height="1.70" fill="#a81028" fill-opacity="0.11"/>
<rect x="209.77" y="97.80" width="0.68" height="1.70" fill="#a81028" fill-opacity="0.20"/>
<rect x="210.61" y="97.80" width="0.90" height="1.70" fill="#a81028" fill-opacity="0.18"/>
<rect x="211.44" y="97.80" width="0.61" height="1.70" fill="#a81028" fill-opacity="0.17"/>
<rect x="212.59" y="97.80" width="1.00" height="1.70" fill="#a81028" fill-opacity="0.16"/>
<rect x="213.65" y="97.80" width="0.63" height="1.70" fill="#a81028" fill-opacity="0.07"/>
<rect x="214.20" y="97.80" width="1.07" height="1.70" fill="#a81028" fill-opacity="0.13"/>
<rect x="215.32" y="97.80" width="0.91" height="1.70" fill="#a81028" fill-opacity="0.12"/>
<rect x="216.32" y="97.80" width="1.09" height="1.70" fill="#a81028" fill-opacity="0.11"/>
<rect x="217.47" y="97.80" width="1.05" height="1.70" fill="#a81028" fill-opacity="0.16"/>
<rect x="218.51" y="97.80" width="0.76" height="1.70" fill="#a81028" fill-opacity="0.15"/>
<rect x="219.14" y="97.80" width="0.63" height="1.70" fill="#a81028" fill-opacity="0.09"/>
<rect x="220.28" y="97.80" width="0.61" height="1.70" fill="#a81028" fill-opacity="0.10"/>
<rect x="220.93" y="97.80" width="0.82" height="1.70" fill="#a81028" fill-opacity="0.07"/>
<rect x="221.59" y="97.80" width="0.84" height="1.70" fill="#a81028" fill-opacity="0.08"/>
<rect x="222.33" y="97.80" width="1.01" height="1.70" fill="#a81028" fill-opacity="0.11"/>
<rect x="296.50" y="96.20" width="0.66" height="1.00" fill="#7aa6d6" fill-opacity="0.06"/>
<rect x="298.11" y="96.20" width="0.67" height="1.00" fill="#7aa6d6" fill-opacity="0.14"/>
<rect x="299.21" y="96.20" width="0.98" height="1.00" fill="#7aa6d6" fill-opacity="0.08"/>
<rect x="300.37" y="96.20" width="0.93" height="1.00" fill="#7aa6d6" fill-opacity="0.15"/>
<rect x="301.52" y="96.20" width="0.82" height="1.00" fill="#7aa6d6" fill-opacity="0.12"/>
<rect x="303.16" y="96.20" width="0.65" height="1.00" fill="#7aa6d6" fill-opacity="0.18"/>
<rect x="304.10" y="96.20" width="0.80" height="1.00" fill="#7aa6d6" fill-opacity="0.17"/>
<rect x="305.36" y="96.20" width="0.78" height="1.00" fill="#7aa6d6" fill-opacity="0.10"/>
<rect x="307.98" y="96.20" width="0.71" height="1.00" fill="#7aa6d6" fill-opacity="0.08"/>
<rect x="309.93" y="96.20" width="1.08" height="1.00" fill="#7aa6d6" fill-opacity="0.12"/>
<rect x="312.34" y="96.20" width="0.70" height="1.00" fill="#7aa6d6" fill-opacity="0.10"/>
<rect x="314.74" y="96.20" width="0.62" height="1.00" fill="#7aa6d6" fill-opacity="0.18"/>
<rect x="316.97" y="96.20" width="0.93" height="1.00" fill="#7aa6d6" fill-opacity="0.16"/>
<rect x="318.26" y="96.20" width="0.96" height="1.00" fill="#7aa6d6" fill-opacity="0.15"/>
<rect x="319.51" y="96.20" width="0.71" height="1.00" fill="#7aa6d6" fill-opacity="0.13"/>
<rect x="320.48" y="96.20" width="0.77" height="1.00" fill="#7aa6d6" fill-opacity="0.10"/>
<rect x="322.10" y="96.20" width="1.02" height="1.00" fill="#7aa6d6" fill-opacity="0.14"/>
<rect x="324.73" y="96.20" width="1.10" height="1.00" fill="#7aa6d6" fill-opacity="0.18"/>
<rect x="327.05" y="96.20" width="0.69" height="1.00" fill="#7aa6d6" fill-opacity="0.09"/>
<rect x="329.07" y="96.20" width="0.94" height="1.00" fill="#7aa6d6" fill-opacity="0.12"/>
<rect x="330.14" y="96.20" width="1.06" height="1.00" fill="#7aa6d6" fill-opacity="0.08"/>
<rect x="332.12" y="96.20" width="0.65" height="1.00" fill="#7aa6d6" fill-opacity="0.14"/>
<rect x="333.74" y="96.20" width="0.92" height="1.00" fill="#7aa6d6" fill-opacity="0.17"/>
<rect x="336.43" y="96.20" width="0.83" height="1.00" fill="#7aa6d6" fill-opacity="0.08"/>
<rect x="338.77" y="96.20" width="0.99" height="1.00" fill="#7aa6d6" fill-opacity="0.11"/>
<rect x="340.68" y="96.20" width="0.65" height="1.00" fill="#7aa6d6" fill-opacity="0.07"/>
<rect x="343.35" y="96.20" width="0.70" height="1.00" fill="#7aa6d6" fill-opacity="0.07"/>
<rect x="344.85" y="96.20" width="1.03" height="1.00" fill="#7aa6d6" fill-opacity="0.14"/>
<rect x="346.61" y="96.20" width="0.99" height="1.00" fill="#7aa6d6" fill-opacity="0.12"/>
<rect x="348.01" y="96.20" width="0.91" height="1.00" fill="#7aa6d6" fill-opacity="0.10"/>
<rect x="350.05" y="96.20" width="0.66" height="1.00" fill="#7aa6d6" fill-opacity="0.06"/>
<rect x="351.20" y="96.20" width="0.95" height="1.00" fill="#7aa6d6" fill-opacity="0.15"/>
<rect x="353.85" y="96.20" width="0.73" height="1.00" fill="#7aa6d6" fill-opacity="0.15"/>
<rect x="356.13" y="96.20" width="0.77" height="1.00" fill="#7aa6d6" fill-opacity="0.18"/>
<rect x="357.05" y="96.20" width="0.74" height="1.00" fill="#7aa6d6" fill-opacity="0.10"/>
<rect x="358.27" y="96.20" width="0.66" height="1.00" fill="#7aa6d6" fill-opacity="0.06"/>
<rect x="360.73" y="96.20" width="0.91" height="1.00" fill="#7aa6d6" fill-opacity="0.06"/>
<rect x="362.00" y="96.20" width="1.01" height="1.00" fill="#7aa6d6" fill-opacity="0.08"/>
<rect x="296.50" y="97.40" width="0.71" height="1.40" fill="#d05070" fill-opacity="0.11"/>
<rect x="297.87" y="97.40" width="0.85" height="1.40" fill="#d05070" fill-opacity="0.28"/>
<rect x="299.94" y="97.40" width="0.85" height="1.40" fill="#d05070" fill-opacity="0.11"/>
<rect x="302.22" y="97.40" width="1.07" height="1.40" fill="#d05070" fill-opacity="0.20"/>
<rect x="304.57" y="97.40" width="0.60" height="1.40" fill="#d05070" fill-opacity="0.17"/>
<rect x="306.71" y="97.40" width="0.60" height="1.40" fill="#d05070" fill-opacity="0.12"/>
<rect x="308.80" y="97.40" width="1.02" height="1.40" fill="#d05070" fill-opacity="0.27"/>
<rect x="311.27" y="97.40" width="0.64" height="1.40" fill="#d05070" fill-opacity="0.13"/>
<rect x="312.32" y="97.40" width="0.66" height="1.40" fill="#d05070" fill-opacity="0.30"/>
<rect x="313.45" y="97.40" width="0.62" height="1.40" fill="#d05070" fill-opacity="0.09"/>
<rect x="314.36" y="97.40" width="0.68" height="1.40" fill="#d05070" fill-opacity="0.16"/>
<rect x="315.74" y="97.40" width="0.68" height="1.40" fill="#d05070" fill-opacity="0.29"/>
<rect x="317.97" y="97.40" width="0.88" height="1.40" fill="#d05070" fill-opacity="0.25"/>
<rect x="319.80" y="97.40" width="0.89" height="1.40" fill="#d05070" fill-opacity="0.25"/>
<rect x="321.04" y="97.40" width="0.72" height="1.40" fill="#d05070" fill-opacity="0.16"/>
<rect x="322.57" y="97.40" width="0.81" height="1.40" fill="#d05070" fill-opacity="0.30"/>
<rect x="323.54" y="97.40" width="1.01" height="1.40" fill="#d05070" fill-opacity="0.19"/>
<rect x="325.15" y="97.40" width="0.65" height="1.40" fill="#d05070" fill-opacity="0.24"/>
<rect x="326.10" y="97.40" width="0.62" height="1.40" fill="#d05070" fill-opacity="0.23"/>
<rect x="327.47" y="97.40" width="0.70" height="1.40" fill="#d05070" fill-opacity="0.17"/>
<rect x="328.38" y="97.40" width="1.08" height="1.40" fill="#d05070" fill-opacity="0.09"/>
<rect x="330.40" y="97.40" width="0.85" height="1.40" fill="#d05070" fill-opacity="0.29"/>
<rect x="332.87" y="97.40" width="0.91" height="1.40" fill="#d05070" fill-opacity="0.27"/>
<rect x="334.61" y="97.40" width="0.71" height="1.40" fill="#d05070" fill-opacity="0.20"/>
<rect x="336.10" y="97.40" width="0.70" height="1.40" fill="#d05070" fill-opacity="0.24"/>
<rect x="338.40" y="97.40" width="0.90" height="1.40" fill="#d05070" fill-opacity="0.20"/>
<rect x="340.65" y="97.40" width="0.67" height="1.40" fill="#d05070" fill-opacity="0.23"/>
<rect x="341.92" y="97.40" width="0.61" height="1.40" fill="#d05070" fill-opacity="0.09"/>
<rect x="344.38" y="97.40" width="1.08" height="1.40" fill="#d05070" fill-opacity="0.21"/>
<rect x="346.56" y="97.40" width="1.08" height="1.40" fill="#d05070" fill-opacity="0.16"/>
<rect x="348.98" y="97.40" width="0.64" height="1.40" fill="#d05070" fill-opacity="0.19"/>
<rect x="350.37" y="97.40" width="0.78" height="1.40" fill="#d05070" fill-opacity="0.12"/>
<rect x="351.36" y="97.40" width="1.09" height="1.40" fill="#d05070" fill-opacity="0.24"/>
<rect x="352.57" y="97.40" width="0.89" height="1.40" fill="#d05070" fill-opacity="0.25"/>
<rect x="354.24" y="97.40" width="0.79" height="1.40" fill="#d05070" fill-opacity="0.28"/>
<rect x="356.49" y="97.40" width="1.08" height="1.40" fill="#d05070" fill-opacity="0.10"/>
<rect x="357.65" y="97.40" width="1.04" height="1.40" fill="#d05070" fill-opacity="0.09"/>
<rect x="359.72" y="97.40" width="0.98" height="1.40" fill="#d05070" fill-opacity="0.23"/>
<rect x="361.21" y="97.40" width="0.76" height="1.40" fill="#d05070" fill-opacity="0.11"/>
<rect x="421.90" y="92.60" width="0.72" height="2.20" fill="#4f86c6" fill-opacity="0.26"/>
<rect x="422.90" y="92.60" width="0.89" height="2.20" fill="#4f86c6" fill-opacity="0.42"/>
<rect x="424.68" y="92.60" width="0.79" height="2.20" fill="#4f86c6" fill-opacity="0.31"/>
<rect x="426.53" y="92.60" width="0.99" height="2.20" fill="#4f86c6" fill-opacity="0.32"/>
<rect x="428.27" y="92.60" width="0.82" height="2.20" fill="#4f86c6" fill-opacity="0.40"/>
<rect x="429.26" y="92.60" width="0.96" height="2.20" fill="#4f86c6" fill-opacity="0.18"/>
<rect x="430.26" y="92.60" width="0.91" height="2.20" fill="#4f86c6" fill-opacity="0.34"/>
<rect x="431.10" y="92.60" width="0.62" height="2.20" fill="#4f86c6" fill-opacity="0.38"/>
<rect x="433.15" y="92.60" width="0.71" height="2.20" fill="#4f86c6" fill-opacity="0.40"/>
<rect x="434.99" y="92.60" width="0.66" height="2.20" fill="#4f86c6" fill-opacity="0.37"/>
<rect x="436.74" y="92.60" width="1.06" height="2.20" fill="#4f86c6" fill-opacity="0.17"/>
<rect x="438.53" y="92.60" width="0.63" height="2.20" fill="#4f86c6" fill-opacity="0.44"/>
<rect x="439.75" y="92.60" width="0.90" height="2.20" fill="#4f86c6" fill-opacity="0.33"/>
<rect x="440.77" y="92.60" width="1.02" height="2.20" fill="#4f86c6" fill-opacity="0.41"/>
<rect x="441.98" y="92.60" width="0.93" height="2.20" fill="#4f86c6" fill-opacity="0.18"/>
<rect x="443.34" y="92.60" width="0.85" height="2.20" fill="#4f86c6" fill-opacity="0.34"/>
<rect x="444.68" y="92.60" width="0.67" height="2.20" fill="#4f86c6" fill-opacity="0.14"/>
<rect x="446.12" y="92.60" width="0.81" height="2.20" fill="#4f86c6" fill-opacity="0.36"/>
<rect x="447.98" y="92.60" width="1.04" height="2.20" fill="#4f86c6" fill-opacity="0.31"/>
<rect x="449.72" y="92.60" width="0.67" height="2.20" fill="#4f86c6" fill-opacity="0.24"/>
<rect x="450.57" y="92.60" width="1.03" height="2.20" fill="#4f86c6" fill-opacity="0.15"/>
<rect x="452.63" y="92.60" width="0.65" height="2.20" fill="#4f86c6" fill-opacity="0.37"/>
<rect x="454.37" y="92.60" width="1.04" height="2.20" fill="#4f86c6" fill-opacity="0.18"/>
<rect x="456.10" y="92.60" width="0.90" height="2.20" fill="#4f86c6" fill-opacity="0.37"/>
<rect x="457.48" y="92.60" width="1.08" height="2.20" fill="#4f86c6" fill-opacity="0.40"/>
<rect x="458.59" y="92.60" width="0.97" height="2.20" fill="#4f86c6" fill-opacity="0.27"/>
<rect x="460.36" y="92.60" width="0.83" height="2.20" fill="#4f86c6" fill-opacity="0.26"/>
<rect x="462.56" y="92.60" width="0.71" height="2.20" fill="#4f86c6" fill-opacity="0.22"/>
<rect x="464.34" y="92.60" width="1.05" height="2.20" fill="#4f86c6" fill-opacity="0.22"/>
<rect x="465.58" y="92.60" width="0.79" height="2.20" fill="#4f86c6" fill-opacity="0.43"/>
<rect x="467.66" y="92.60" width="0.97" height="2.20" fill="#4f86c6" fill-opacity="0.37"/>
<rect x="468.73" y="92.60" width="0.62" height="2.20" fill="#4f86c6" fill-opacity="0.19"/>
<rect x="469.75" y="92.60" width="0.63" height="2.20" fill="#4f86c6" fill-opacity="0.34"/>
<rect x="470.86" y="92.60" width="0.68" height="2.20" fill="#4f86c6" fill-opacity="0.31"/>
<rect x="472.10" y="92.60" width="0.94" height="2.20" fill="#4f86c6" fill-opacity="0.21"/>
<rect x="473.03" y="92.60" width="0.90" height="2.20" fill="#4f86c6" fill-opacity="0.45"/>
<rect x="474.85" y="92.60" width="0.85" height="2.20" fill="#4f86c6" fill-opacity="0.31"/>
<rect x="477.05" y="92.60" width="1.01" height="2.20" fill="#4f86c6" fill-opacity="0.42"/>
<rect x="477.85" y="92.60" width="1.07" height="2.20" fill="#4f86c6" fill-opacity="0.32"/>
<rect x="479.56" y="92.60" width="0.92" height="2.20" fill="#4f86c6" fill-opacity="0.30"/>
<rect x="480.57" y="92.60" width="0.99" height="2.20" fill="#4f86c6" fill-opacity="0.36"/>
<rect x="481.43" y="92.60" width="0.90" height="2.20" fill="#4f86c6" fill-opacity="0.30"/>
<rect x="482.71" y="92.60" width="1.06" height="2.20" fill="#4f86c6" fill-opacity="0.35"/>
<rect x="484.82" y="92.60" width="0.68" height="2.20" fill="#4f86c6" fill-opacity="0.23"/>
<rect x="486.85" y="92.60" width="1.01" height="2.20" fill="#4f86c6" fill-opacity="0.33"/>
<rect x="421.90" y="96.80" width="0.61" height="2.10" fill="#c03050" fill-opacity="0.45"/>
<rect x="422.83" y="96.80" width="0.97" height="2.10" fill="#c03050" fill-opacity="0.27"/>
<rect x="424.24" y="96.80" width="0.64" height="2.10" fill="#c03050" fill-opacity="0.55"/>
<rect x="425.35" y="96.80" width="0.71" height="2.10" fill="#c03050" fill-opacity="0.19"/>
<rect x="426.55" y="96.80" width="0.70" height="2.10" fill="#c03050" fill-opacity="0.19"/>
<rect x="427.93" y="96.80" width="0.71" height="2.10" fill="#c03050" fill-opacity="0.41"/>
<rect x="429.24" y="96.80" width="0.60" height="2.10" fill="#c03050" fill-opacity="0.52"/>
<rect x="430.81" y="96.80" width="0.77" height="2.10" fill="#c03050" fill-opacity="0.47"/>
<rect x="431.60" y="96.80" width="0.77" height="2.10" fill="#c03050" fill-opacity="0.58"/>
<rect x="432.31" y="96.80" width="1.02" height="2.10" fill="#c03050" fill-opacity="0.22"/>
<rect x="433.63" y="96.80" width="0.96" height="2.10" fill="#c03050" fill-opacity="0.52"/>
<rect x="434.87" y="96.80" width="0.79" height="2.10" fill="#c03050" fill-opacity="0.59"/>
<rect x="436.14" y="96.80" width="0.91" height="2.10" fill="#c03050" fill-opacity="0.53"/>
<rect x="437.77" y="96.80" width="0.95" height="2.10" fill="#c03050" fill-opacity="0.42"/>
<rect x="438.43" y="96.80" width="0.74" height="2.10" fill="#c03050" fill-opacity="0.28"/>
<rect x="439.12" y="96.80" width="0.65" height="2.10" fill="#c03050" fill-opacity="0.28"/>
<rect x="440.06" y="96.80" width="0.78" height="2.10" fill="#c03050" fill-opacity="0.26"/>
<rect x="441.10" y="96.80" width="0.73" height="2.10" fill="#c03050" fill-opacity="0.16"/>
<rect x="442.82" y="96.80" width="0.90" height="2.10" fill="#c03050" fill-opacity="0.26"/>
<rect x="443.63" y="96.80" width="0.68" height="2.10" fill="#c03050" fill-opacity="0.28"/>
<rect x="444.68" y="96.80" width="0.92" height="2.10" fill="#c03050" fill-opacity="0.35"/>
<rect x="445.95" y="96.80" width="1.02" height="2.10" fill="#c03050" fill-opacity="0.27"/>
<rect x="447.48" y="96.80" width="0.62" height="2.10" fill="#c03050" fill-opacity="0.16"/>
<rect x="448.46" y="96.80" width="0.71" height="2.10" fill="#c03050" fill-opacity="0.17"/>
<rect x="450.19" y="96.80" width="0.76" height="2.10" fill="#c03050" fill-opacity="0.32"/>
<rect x="451.58" y="96.80" width="1.06" height="2.10" fill="#c03050" fill-opacity="0.20"/>
<rect x="452.73" y="96.80" width="0.72" height="2.10" fill="#c03050" fill-opacity="0.17"/>
<rect x="454.00" y="96.80" width="0.89" height="2.10" fill="#c03050" fill-opacity="0.17"/>
<rect x="455.68" y="96.80" width="0.71" height="2.10" fill="#c03050" fill-opacity="0.20"/>
<rect x="457.48" y="96.80" width="0.65" height="2.10" fill="#c03050" fill-opacity="0.23"/>
<rect x="458.14" y="96.80" width="0.91" height="2.10" fill="#c03050" fill-opacity="0.13"/>
<rect x="459.69" y="96.80" width="0.63" height="2.10" fill="#c03050" fill-opacity="0.21"/>
<rect x="460.74" y="96.80" width="0.86" height="2.10" fill="#c03050" fill-opacity="0.35"/>
<rect x="462.51" y="96.80" width="0.61" height="2.10" fill="#c03050" fill-opacity="0.32"/>
<rect x="463.97" y="96.80" width="0.87" height="2.10" fill="#c03050" fill-opacity="0.27"/>
<rect x="464.89" y="96.80" width="0.66" height="2.10" fill="#c03050" fill-opacity="0.26"/>
<rect x="466.02" y="96.80" width="1.08" height="2.10" fill="#c03050" fill-opacity="0.22"/>
<rect x="467.67" y="96.80" width="0.85" height="2.10" fill="#c03050" fill-opacity="0.17"/>
<rect x="468.48" y="96.80" width="1.04" height="2.10" fill="#c03050" fill-opacity="0.33"/>
<rect x="469.44" y="96.80" width="0.90" height="2.10" fill="#c03050" fill-opacity="0.26"/>
<rect x="470.22" y="96.80" width="0.87" height="2.10" fill="#c03050" fill-opacity="0.50"/>
<rect x="471.76" y="96.80" width="0.60" height="2.10" fill="#c03050" fill-opacity="0.40"/>
<rect x="472.75" y="96.80" width="1.06" height="2.10" fill="#c03050" fill-opacity="0.19"/>
<rect x="474.40" y="96.80" width="0.75" height="2.10" fill="#c03050" fill-opacity="0.53"/>
<rect x="475.07" y="96.80" width="1.07" height="2.10" fill="#c03050" fill-opacity="0.55"/>
<rect x="475.77" y="96.80" width="0.63" height="2.10" fill="#c03050" fill-opacity="0.38"/>
<rect x="477.29" y="96.80" width="0.66" height="2.10" fill="#c03050" fill-opacity="0.50"/>
<rect x="478.46" y="96.80" width="0.73" height="2.10" fill="#c03050" fill-opacity="0.41"/>
<rect x="480.10" y="96.80" width="0.71" height="2.10" fill="#c03050" fill-opacity="0.36"/>
<rect x="481.35" y="96.80" width="0.70" height="2.10" fill="#c03050" fill-opacity="0.49"/>
<rect x="482.32" y="96.80" width="0.92" height="2.10" fill="#c03050" fill-opacity="0.60"/>
<rect x="483.45" y="96.80" width="0.66" height="2.10" fill="#c03050" fill-opacity="0.40"/>
<rect x="484.32" y="96.80" width="0.89" height="2.10" fill="#c03050" fill-opacity="0.32"/>
<rect x="485.20" y="96.80" width="0.64" height="2.10" fill="#c03050" fill-opacity="0.27"/>
<rect x="486.55" y="96.80" width="1.05" height="2.10" fill="#c03050" fill-opacity="0.28"/>
<text x="62.50" y="76.40" font-size="8.7" stroke="#231f20" stroke-width="0.1" textLength="14.00" lengthAdjust="spacingAndGlyphs">NES</text>
<text x="85.50" y="76.40" font-size="8.7" stroke="#231f20" stroke-width="0.1" textLength="13.70" lengthAdjust="spacingAndGlyphs">FDR</text>
<text x="38.40" y="83.60" font-size="8.3" fill="#cc2449" stroke="#cc2449" stroke-width="0.1" textLength="20.20" lengthAdjust="spacingAndGlyphs">Tconv</text>
<text x="38.40" y="91.70" font-size="8.3" fill="#31689f" stroke="#31689f" stroke-width="0.1" textLength="14.40" lengthAdjust="spacingAndGlyphs">CD8</text>
<text x="62.50" y="83.60" font-size="8.3" fill="#cc2449" stroke="#cc2449" stroke-width="0.1" textLength="14.20" lengthAdjust="spacingAndGlyphs">2.08</text>
<text x="85.20" y="83.60" font-size="8.3" fill="#cc2449" stroke="#cc2449" stroke-width="0.1" textLength="14.30" lengthAdjust="spacingAndGlyphs">0.00</text>
<text x="62.50" y="91.70" font-size="8.3" fill="#31689f" stroke="#31689f" stroke-width="0.1" textLength="14.20" lengthAdjust="spacingAndGlyphs">2.02</text>
<text x="85.20" y="91.70" font-size="8.3" fill="#31689f" stroke="#31689f" stroke-width="0.1" textLength="14.30" lengthAdjust="spacingAndGlyphs">0.01</text>
<text x="182.70" y="76.40" font-size="8.7" stroke="#231f20" stroke-width="0.1" textLength="14.00" lengthAdjust="spacingAndGlyphs">NES</text>
<text x="205.20" y="76.40" font-size="8.7" stroke="#231f20" stroke-width="0.1" textLength="14.30" lengthAdjust="spacingAndGlyphs">FDR</text>
<text x="157.80" y="83.60" font-size="8.3" fill="#cc2449" stroke="#cc2449" stroke-width="0.1" textLength="20.20" lengthAdjust="spacingAndGlyphs">Tconv</text>
<text x="157.80" y="91.80" font-size="8.3" fill="#31689f" stroke="#31689f" stroke-width="0.1" textLength="14.40" lengthAdjust="spacingAndGlyphs">CD8</text>
<text x="182.70" y="83.60" font-size="8.3" fill="#cc2449" stroke="#cc2449" stroke-width="0.1" textLength="14.20" lengthAdjust="spacingAndGlyphs">2.67</text>
<text x="204.90" y="83.60" font-size="8.3" fill="#cc2449" stroke="#cc2449" stroke-width="0.1" textLength="14.90" lengthAdjust="spacingAndGlyphs">0.00</text>
<text x="182.70" y="91.80" font-size="8.3" fill="#31689f" stroke="#31689f" stroke-width="0.1" textLength="14.20" lengthAdjust="spacingAndGlyphs">1.31</text>
<text x="204.90" y="91.80" font-size="8.3" fill="#31689f" stroke="#31689f" stroke-width="0.1" textLength="14.90" lengthAdjust="spacingAndGlyphs">0.11</text>
<text x="320.70" y="79.20" font-size="8.7" stroke="#231f20" stroke-width="0.1" textLength="14.00" lengthAdjust="spacingAndGlyphs">NES</text>
<text x="343.30" y="79.20" font-size="8.7" stroke="#231f20" stroke-width="0.1" textLength="14.40" lengthAdjust="spacingAndGlyphs">FDR</text>
<text x="295.80" y="86.20" font-size="8.3" fill="#cc2449" stroke="#cc2449" stroke-width="0.1" textLength="20.20" lengthAdjust="spacingAndGlyphs">Tconv</text>
<text x="295.80" y="94.20" font-size="8.3" fill="#31689f" stroke="#31689f" stroke-width="0.1" textLength="14.40" lengthAdjust="spacingAndGlyphs">CD8</text>
<text x="318.30" y="86.20" font-size="8.3" fill="#cc2449" stroke="#cc2449" stroke-width="0.1" textLength="18.80" lengthAdjust="spacingAndGlyphs">−0.96</text>
<text x="343.00" y="86.20" font-size="8.3" fill="#cc2449" stroke="#cc2449" stroke-width="0.1" textLength="15.00" lengthAdjust="spacingAndGlyphs">0.63</text>
<text x="318.30" y="94.20" font-size="8.3" fill="#31689f" stroke="#31689f" stroke-width="0.1" textLength="18.80" lengthAdjust="spacingAndGlyphs">−1.53</text>
<text x="343.00" y="94.20" font-size="8.3" fill="#31689f" stroke="#31689f" stroke-width="0.1" textLength="15.00" lengthAdjust="spacingAndGlyphs">0.05</text>
<text x="446.80" y="76.00" font-size="8.7" stroke="#231f20" stroke-width="0.1" textLength="13.30" lengthAdjust="spacingAndGlyphs">NES</text>
<text x="469.00" y="76.00" font-size="8.7" stroke="#231f20" stroke-width="0.1" textLength="14.30" lengthAdjust="spacingAndGlyphs">FDR</text>
<text x="421.90" y="83.20" font-size="8.3" fill="#cc2449" stroke="#cc2449" stroke-width="0.1" textLength="20.20" lengthAdjust="spacingAndGlyphs">Tconv</text>
<text x="421.90" y="91.10" font-size="8.3" fill="#31689f" stroke="#31689f" stroke-width="0.1" textLength="14.40" lengthAdjust="spacingAndGlyphs">CD8</text>
<text x="444.40" y="83.20" font-size="8.3" fill="#cc2449" stroke="#cc2449" stroke-width="0.1" textLength="18.10" lengthAdjust="spacingAndGlyphs">−1.54</text>
<text x="468.70" y="83.20" font-size="8.3" fill="#cc2449" stroke="#cc2449" stroke-width="0.1" textLength="14.90" lengthAdjust="spacingAndGlyphs">0.03</text>
<text x="444.40" y="91.10" font-size="8.3" fill="#31689f" stroke="#31689f" stroke-width="0.1" textLength="18.10" lengthAdjust="spacingAndGlyphs">−1.53</text>
<text x="468.70" y="91.10" font-size="8.3" fill="#31689f" stroke="#31689f" stroke-width="0.1" textLength="14.90" lengthAdjust="spacingAndGlyphs">0.02</text>
<text x="7.30" y="144.90" font-size="11.3" fill="#000" stroke="#000" stroke-width="0.15" textLength="8.30" lengthAdjust="spacingAndGlyphs" font-weight="bold">D</text>
<rect x="47.50" y="148.50" width="85.10" height="10.90" fill="#e5e5e6" stroke="#3a3a3a" stroke-width="1.1"/>
<rect x="47.50" y="159.40" width="85.10" height="89.30" fill="#fff" stroke="#3a3a3a" stroke-width="1.1"/>
<text x="90.05" y="157.00" font-size="9.0" stroke="#231f20" stroke-width="0.15" text-anchor="middle" textLength="14.50" lengthAdjust="spacingAndGlyphs">CD8</text>
<rect x="136.30" y="148.50" width="85.20" height="10.90" fill="#e5e5e6" stroke="#3a3a3a" stroke-width="1.1"/>
<rect x="136.30" y="159.40" width="85.20" height="89.30" fill="#fff" stroke="#3a3a3a" stroke-width="1.1"/>
<text x="178.90" y="157.00" font-size="9.0" stroke="#231f20" stroke-width="0.15" text-anchor="middle" textLength="20.00" lengthAdjust="spacingAndGlyphs">Tconv</text>
<line x1="66.30" y1="162.70" x2="66.30" y2="248.40" stroke="#8a8a8a" stroke-width="0.8" stroke-dasharray="1.8,2.4"/>
<line x1="90.60" y1="162.70" x2="90.60" y2="248.40" stroke="#8a8a8a" stroke-width="0.8" stroke-dasharray="1.8,2.4"/>
<line x1="114.40" y1="162.70" x2="114.40" y2="248.40" stroke="#8a8a8a" stroke-width="0.8" stroke-dasharray="1.8,2.4"/>
<line x1="47.50" y1="172.30" x2="132.10" y2="172.30" stroke="#8a8a8a" stroke-width="0.8" stroke-dasharray="1.8,2.4"/>
<line x1="47.50" y1="200.80" x2="132.10" y2="200.80" stroke="#8a8a8a" stroke-width="0.8" stroke-dasharray="1.8,2.4"/>
<line x1="47.50" y1="229.30" x2="132.10" y2="229.30" stroke="#8a8a8a" stroke-width="0.8" stroke-dasharray="1.8,2.4"/>
<line x1="154.00" y1="162.70" x2="154.00" y2="248.40" stroke="#8a8a8a" stroke-width="0.8" stroke-dasharray="1.8,2.4"/>
<line x1="178.50" y1="162.70" x2="178.50" y2="248.40" stroke="#8a8a8a" stroke-width="0.8" stroke-dasharray="1.8,2.4"/>
<line x1="202.80" y1="162.70" x2="202.80" y2="248.40" stroke="#8a8a8a" stroke-width="0.8" stroke-dasharray="1.8,2.4"/>
<line x1="136.30" y1="172.30" x2="221.00" y2="172.30" stroke="#8a8a8a" stroke-width="0.8" stroke-dasharray="1.8,2.4"/>
<line x1="136.30" y1="200.80" x2="221.00" y2="200.80" stroke="#8a8a8a" stroke-width="0.8" stroke-dasharray="1.8,2.4"/>
<line x1="136.30" y1="229.30" x2="221.00" y2="229.30" stroke="#8a8a8a" stroke-width="0.8" stroke-dasharray="1.8,2.4"/>
<text x="44.00" y="174.90" font-size="8.2" stroke="#231f20" stroke-width="0.15" text-anchor="end" textLength="36.30" lengthAdjust="spacingAndGlyphs">Exhausted</text>
<text x="44.00" y="203.40" font-size="8.2" stroke="#231f20" stroke-width="0.15" text-anchor="end" textLength="33.30" lengthAdjust="spacingAndGlyphs">Activated</text>
<text x="44.00" y="232.30" font-size="8.2" stroke="#231f20" stroke-width="0.15" text-anchor="end" textLength="19.50" lengthAdjust="spacingAndGlyphs">Naive</text>
<circle cx="66.30" cy="172.30" r="3.10" fill="#7b9fc4" stroke="#6e8fb0" stroke-width="0.7"/>
<circle cx="90.60" cy="172.30" r="3.10" fill="#c3d5e6" stroke="#afbfcf" stroke-width="0.7"/>
<circle cx="114.40" cy="172.30" r="3.10" fill="#c3d5e6" stroke="#afbfcf" stroke-width="0.7"/>
<circle cx="66.30" cy="200.80" r="6.30" fill="#c8102e" stroke="#b40e29" stroke-width="0.7"/>
<circle cx="90.60" cy="200.80" r="6.30" fill="#c8102e" stroke="#b40e29" stroke-width="0.7"/>
<circle cx="66.30" cy="229.30" r="3.10" fill="#f2c3cc" stroke="#d9afb7" stroke-width="0.7"/>
<circle cx="90.60" cy="229.30" r="3.10" fill="#e08898" stroke="#c97a88" stroke-width="0.7"/>
<circle cx="154.00" cy="172.30" r="3.10" fill="#c3d5e6" stroke="#afbfcf" stroke-width="0.7"/>
<circle cx="178.50" cy="172.30" r="3.30" fill="#e08a9a" stroke="#c97c8a" stroke-width="0.7"/>
<circle cx="154.00" cy="200.60" r="9.20" fill="#c8102e" stroke="#b40e29" stroke-width="0.7"/>
<circle cx="178.50" cy="200.60" r="8.35" fill="#c8102e" stroke="#b40e29" stroke-width="0.7"/>
<circle cx="202.70" cy="200.60" r="6.90" fill="#dd7789" stroke="#c66b7b" stroke-width="0.7"/>
<circle cx="153.90" cy="229.40" r="5.60" fill="#0f4c86" stroke="#0d4478" stroke-width="0.7"/>
<circle cx="178.50" cy="229.40" r="5.50" fill="#0f4c86" stroke="#0d4478" stroke-width="0.7"/>
<text x="75.20" y="181.50" font-size="8.6" stroke="#231f20" stroke-width="0.15" text-anchor="middle">1</text>
<text x="98.70" y="181.50" font-size="8.6" stroke="#231f20" stroke-width="0.15" text-anchor="middle">2</text>
<text x="121.20" y="181.50" font-size="8.6" stroke="#231f20" stroke-width="0.15" text-anchor="middle">3</text>
<text x="75.20" y="214.40" font-size="8.6" stroke="#231f20" stroke-width="0.15" text-anchor="middle">4</text>
<text x="98.10" y="214.40" font-size="8.6" stroke="#231f20" stroke-width="0.15" text-anchor="middle">5</text>
<text x="75.00" y="241.40" font-size="8.6" stroke="#231f20" stroke-width="0.15" text-anchor="middle">6</text>
<text x="97.70" y="241.40" font-size="8.6" stroke="#231f20" stroke-width="0.15" text-anchor="middle">7</text>
<text x="163.50" y="181.50" font-size="8.6" stroke="#231f20" stroke-width="0.15" text-anchor="middle">8</text>
<text x="186.30" y="181.50" font-size="8.6" stroke="#231f20" stroke-width="0.15" text-anchor="middle">9</text>
<text x="165.80" y="214.60" font-size="8.6" stroke="#231f20" stroke-width="0.15" text-anchor="middle">10</text>
<text x="188.50" y="214.60" font-size="8.6" stroke="#231f20" stroke-width="0.15" text-anchor="middle">11</text>
<text x="212.20" y="214.60" font-size="8.6" stroke="#231f20" stroke-width="0.15" text-anchor="middle">12</text>
<text x="165.80" y="241.20" font-size="8.6" stroke="#231f20" stroke-width="0.15" text-anchor="middle">13</text>
<text x="188.50" y="241.20" font-size="8.6" stroke="#231f20" stroke-width="0.15" text-anchor="middle">14</text>
<circle cx="67.30" cy="259.40" r="8.30" fill="#c4c4c8"/>
<text x="79.00" y="262.30" font-size="7.9" stroke="#231f20" stroke-width="0.15" textLength="26.40" lengthAdjust="spacingAndGlyphs">|NES|=3</text>
<circle cx="120.80" cy="259.40" r="5.80" fill="#c4c4c8"/>
<text x="131.00" y="262.30" font-size="7.9" stroke="#231f20" stroke-width="0.15" textLength="25.40" lengthAdjust="spacingAndGlyphs">|NES|=2</text>
<circle cx="168.50" cy="259.40" r="2.60" fill="#c4c4c8"/>
<text x="174.80" y="262.30" font-size="7.9" stroke="#231f20" stroke-width="0.15" textLength="25.00" lengthAdjust="spacingAndGlyphs">|NES|=1</text>
<circle cx="73.30" cy="274.20" r="2.75" fill="#fff" stroke="#111" stroke-width="1.1"/>
<text x="80.00" y="277.00" font-size="7.9" stroke="#231f20" stroke-width="0.15" textLength="35.00" lengthAdjust="spacingAndGlyphs">FDR&lt;0.05</text>
<circle cx="143.10" cy="274.20" r="2.80" fill="#fff" stroke="#8a8a8a" stroke-width="0.9"/>
<text x="149.50" y="277.00" font-size="7.9" stroke="#231f20" stroke-width="0.15" textLength="34.50" lengthAdjust="spacingAndGlyphs">FDR≥0.05</text>
<text x="96.40" y="287.60" font-size="7.6" stroke="#231f20" stroke-width="0.15" text-anchor="end" textLength="31.40" lengthAdjust="spacingAndGlyphs">Positively</text>
<text x="96.40" y="295.60" font-size="7.6" stroke="#231f20" stroke-width="0.15" text-anchor="end" textLength="28.80" lengthAdjust="spacingAndGlyphs">enriched</text>
<rect x="99.20" y="283.50" width="9.10" height="8.20" fill="#c8102e"/>
<rect x="108.30" y="283.50" width="8.70" height="8.20" fill="#dd7789"/>
<rect x="117.00" y="283.50" width="9.00" height="8.20" fill="#f2c3cc"/>
<rect x="135.30" y="283.70" width="8.90" height="8.30" fill="#c3d5e6"/>
<rect x="144.20" y="283.70" width="8.40" height="8.30" fill="#7b9fc4"/>
<rect x="152.60" y="283.70" width="9.60" height="8.30" fill="#0f4c86"/>
<text x="165.00" y="287.20" font-size="7.6" stroke="#231f20" stroke-width="0.15" textLength="34.50" lengthAdjust="spacingAndGlyphs">Negatively</text>
<text x="165.00" y="295.40" font-size="7.6" stroke="#231f20" stroke-width="0.15" textLength="28.80" lengthAdjust="spacingAndGlyphs">enriched</text>
<rect x="235.80" y="145.40" width="139.70" height="148.40" fill="none" stroke="#222" stroke-width="1.0"/>
<line x1="250.50" y1="145.40" x2="250.50" y2="293.80" stroke="#222" stroke-width="1.0"/>
<line x1="235.80" y1="156.00" x2="375.50" y2="156.00" stroke="#222" stroke-width="1.0"/>
<line x1="235.80" y1="166.60" x2="375.50" y2="166.60" stroke="#222" stroke-width="1.0"/>
<line x1="235.80" y1="177.20" x2="375.50" y2="177.20" stroke="#222" stroke-width="1.0"/>
<line x1="235.80" y1="187.80" x2="375.50" y2="187.80" stroke="#222" stroke-width="1.0"/>
<line x1="235.80" y1="198.40" x2="375.50" y2="198.40" stroke="#222" stroke-width="1.0"/>
<line x1="235.80" y1="209.00" x2="375.50" y2="209.00" stroke="#222" stroke-width="1.0"/>
<line x1="235.80" y1="219.60" x2="375.50" y2="219.60" stroke="#222" stroke-width="1.0"/>
<line x1="235.80" y1="230.20" x2="375.50" y2="230.20" stroke="#222" stroke-width="1.0"/>
<line x1="235.80" y1="240.80" x2="375.50" y2="240.80" stroke="#222" stroke-width="1.0"/>
<line x1="235.80" y1="251.40" x2="375.50" y2="251.40" stroke="#222" stroke-width="1.0"/>
<line x1="235.80" y1="262.00" x2="375.50" y2="262.00" stroke="#222" stroke-width="1.0"/>
<line x1="235.80" y1="272.60" x2="375.50" y2="272.60" stroke="#222" stroke-width="1.0"/>
<line x1="235.80" y1="283.20" x2="375.50" y2="283.20" stroke="#222" stroke-width="1.0"/>
<text x="238.80" y="153.60" font-size="8.2" stroke="#231f20" stroke-width="0.15">1</text>
<text x="255.40" y="153.60" font-size="8.2" stroke="#231f20" stroke-width="0.15" textLength="105.50" lengthAdjust="spacingAndGlyphs">QUIGLEY<tspan dy="-0.9">_</tspan><tspan dy="0.9">HIV</tspan><tspan dy="-0.9">_</tspan><tspan dy="0.9">PROGRESSOR</tspan></text>
<text x="238.80" y="164.20" font-size="8.2" stroke="#231f20" stroke-width="0.15">2</text>
<text x="255.40" y="164.20" font-size="8.2" stroke="#231f20" stroke-width="0.15" textLength="102.00" lengthAdjust="spacingAndGlyphs">GUO<tspan dy="-0.9">_</tspan><tspan dy="0.9">CD8</tspan><tspan dy="-0.9">_</tspan><tspan dy="0.9">EXHAUSTED</tspan><tspan dy="-0.9">_</tspan><tspan dy="0.9">UP</tspan></text>
<text x="238.80" y="174.80" font-size="8.2" stroke="#231f20" stroke-width="0.15">3</text>
<text x="255.40" y="174.80" font-size="8.2" stroke="#231f20" stroke-width="0.15" textLength="116.00" lengthAdjust="spacingAndGlyphs">ZHANG<tspan dy="-0.9">_</tspan><tspan dy="0.9">CD8</tspan><tspan dy="-0.9">_</tspan><tspan dy="0.9">EXHAUSTION</tspan><tspan dy="-0.9">_</tspan><tspan dy="0.9">UP</tspan></text>
<text x="238.80" y="185.40" font-size="8.2" stroke="#231f20" stroke-width="0.15">4</text>
<text x="255.40" y="185.40" font-size="8.2" stroke="#231f20" stroke-width="0.15" textLength="82.70" lengthAdjust="spacingAndGlyphs">GUO<tspan dy="-0.9">_</tspan><tspan dy="0.9">CD8-C3-CX3CR1</tspan></text>
<text x="238.80" y="196.00" font-size="8.2" stroke="#231f20" stroke-width="0.15">5</text>
<text x="255.40" y="196.00" font-size="8.2" stroke="#231f20" stroke-width="0.15" textLength="97.70" lengthAdjust="spacingAndGlyphs">ZHANG<tspan dy="-0.9">_</tspan><tspan dy="0.9">CD8</tspan><tspan dy="-0.9">_</tspan><tspan dy="0.9">C03-CX3CR1</tspan></text>
<text x="238.80" y="206.60" font-size="8.2" stroke="#231f20" stroke-width="0.15">6</text>
<text x="255.40" y="206.60" font-size="8.2" stroke="#231f20" stroke-width="0.15" textLength="70.20" lengthAdjust="spacingAndGlyphs">GUO<tspan dy="-0.9">_</tspan><tspan dy="0.9">CD8-C1-LEF1</tspan></text>
<text x="238.80" y="217.20" font-size="8.2" stroke="#231f20" stroke-width="0.15">7</text>
<text x="255.40" y="217.20" font-size="8.2" stroke="#231f20" stroke-width="0.15" textLength="85.00" lengthAdjust="spacingAndGlyphs">ZHANG<tspan dy="-0.9">_</tspan><tspan dy="0.9">CD8</tspan><tspan dy="-0.9">_</tspan><tspan dy="0.9">C01-LEF1</tspan></text>
<text x="238.80" y="227.80" font-size="8.2" stroke="#231f20" stroke-width="0.15">8</text>
<text x="255.40" y="227.80" font-size="8.2" stroke="#231f20" stroke-width="0.15" textLength="114.50" lengthAdjust="spacingAndGlyphs">CRAWFORD<tspan dy="-0.9">_</tspan><tspan dy="0.9">EXHAUSTED</tspan><tspan dy="-0.9">_</tspan><tspan dy="0.9">CD4</tspan></text>
<text x="238.80" y="238.40" font-size="8.2" stroke="#231f20" stroke-width="0.15">9</text>
<text x="255.40" y="238.40" font-size="8.2" stroke="#231f20" stroke-width="0.15" textLength="101.50" lengthAdjust="spacingAndGlyphs">GUO<tspan dy="-0.9">_</tspan><tspan dy="0.9">CD4</tspan><tspan dy="-0.9">_</tspan><tspan dy="0.9">EXHAUSTED</tspan><tspan dy="-0.9">_</tspan><tspan dy="0.9">UP</tspan></text>
<text x="238.80" y="249.00" font-size="8.2" stroke="#231f20" stroke-width="0.15">10</text>
<text x="255.40" y="249.00" font-size="8.2" stroke="#231f20" stroke-width="0.15" textLength="74.00" lengthAdjust="spacingAndGlyphs">GUO<tspan dy="-0.9">_</tspan><tspan dy="0.9">CD4-C3-GNLY</tspan></text>
<text x="238.80" y="259.60" font-size="8.2" stroke="#231f20" stroke-width="0.15">11</text>
<text x="255.40" y="259.60" font-size="8.2" stroke="#231f20" stroke-width="0.15" textLength="89.30" lengthAdjust="spacingAndGlyphs">ZHANG<tspan dy="-0.9">_</tspan><tspan dy="0.9">CD4</tspan><tspan dy="-0.9">_</tspan><tspan dy="0.9">C03-GNLY</tspan></text>
<text x="238.80" y="270.20" font-size="8.2" stroke="#231f20" stroke-width="0.15">12</text>
<text x="255.40" y="270.20" font-size="8.2" stroke="#231f20" stroke-width="0.15" textLength="91.40" lengthAdjust="spacingAndGlyphs">ZHANG<tspan dy="-0.9">_</tspan><tspan dy="0.9">CD4</tspan><tspan dy="-0.9">_</tspan><tspan dy="0.9">C08-IL23R</tspan></text>
<text x="238.80" y="280.80" font-size="8.2" stroke="#231f20" stroke-width="0.15">13</text>
<text x="255.40" y="280.80" font-size="8.2" stroke="#231f20" stroke-width="0.15" textLength="74.50" lengthAdjust="spacingAndGlyphs">GUO<tspan dy="-0.9">_</tspan><tspan dy="0.9">CD4-C1-CCR7</tspan></text>
<text x="238.80" y="291.40" font-size="8.2" stroke="#231f20" stroke-width="0.15">14</text>
<text x="255.40" y="291.40" font-size="8.2" stroke="#231f20" stroke-width="0.15" textLength="89.00" lengthAdjust="spacingAndGlyphs">ZHANG<tspan dy="-0.9">_</tspan><tspan dy="0.9">CD4</tspan><tspan dy="-0.9">_</tspan><tspan dy="0.9">C01-CCR7</tspan></text>
<text x="8.00" y="326.90" font-size="11.3" fill="#000" stroke="#000" stroke-width="0.15" textLength="6.60" lengthAdjust="spacingAndGlyphs" font-weight="bold">E</text>
<text x="84.60" y="327.20" font-size="8.1" stroke="#231f20" stroke-width="0.15" text-anchor="middle" textLength="82.00" lengthAdjust="spacingAndGlyphs">No GVHD (day 180) vs.</text>
<text x="84.60" y="337.20" font-size="8.1" stroke="#231f20" stroke-width="0.15" text-anchor="middle" textLength="54.00" lengthAdjust="spacingAndGlyphs">GVHD (day 30)</text>
<text x="184.50" y="327.20" font-size="8.1" stroke="#231f20" stroke-width="0.15" text-anchor="middle" textLength="82.00" lengthAdjust="spacingAndGlyphs">No GVHD (day 180) vs.</text>
<text x="184.50" y="337.20" font-size="8.1" stroke="#231f20" stroke-width="0.15" text-anchor="middle" textLength="66.50" lengthAdjust="spacingAndGlyphs">No GVHD (day 30)</text>
<line x1="84.70" y1="341.20" x2="84.70" y2="441.00" stroke="#888" stroke-width="1.0"/>
<rect x="40.50" y="341.20" width="88.70" height="99.80" fill="none" stroke="#1a1a1a" stroke-width="1.2"/>
<line x1="43.30" y1="441.00" x2="43.30" y2="444.00" stroke="#1a1a1a" stroke-width="1"/>
<text x="43.30" y="453.30" font-size="8.3" stroke="#231f20" stroke-width="0.15" text-anchor="middle">−3</text>
<line x1="57.10" y1="441.00" x2="57.10" y2="444.00" stroke="#1a1a1a" stroke-width="1"/>
<text x="57.10" y="453.30" font-size="8.3" stroke="#231f20" stroke-width="0.15" text-anchor="middle">−2</text>
<line x1="70.90" y1="441.00" x2="70.90" y2="444.00" stroke="#1a1a1a" stroke-width="1"/>
<text x="70.90" y="453.30" font-size="8.3" stroke="#231f20" stroke-width="0.15" text-anchor="middle">−1</text>
<line x1="84.70" y1="441.00" x2="84.70" y2="444.00" stroke="#1a1a1a" stroke-width="1"/>
<text x="84.70" y="453.30" font-size="8.3" stroke="#231f20" stroke-width="0.15" text-anchor="middle">0</text>
<line x1="98.50" y1="441.00" x2="98.50" y2="444.00" stroke="#1a1a1a" stroke-width="1"/>
<text x="98.50" y="453.30" font-size="8.3" stroke="#231f20" stroke-width="0.15" text-anchor="middle">1</text>
<line x1="112.30" y1="441.00" x2="112.30" y2="444.00" stroke="#1a1a1a" stroke-width="1"/>
<text x="112.30" y="453.30" font-size="8.3" stroke="#231f20" stroke-width="0.15" text-anchor="middle">2</text>
<line x1="126.10" y1="441.00" x2="126.10" y2="444.00" stroke="#1a1a1a" stroke-width="1"/>
<text x="126.10" y="453.30" font-size="8.3" stroke="#231f20" stroke-width="0.15" text-anchor="middle">3</text>
<text x="85.00" y="466.20" font-size="10.2" stroke="#231f20" stroke-width="0.15" text-anchor="middle" textLength="12.80" lengthAdjust="spacingAndGlyphs">NES</text>
<circle cx="97.40" cy="348.50" r="4.10" fill="#f2c3cc" stroke="#d9afb7" stroke-width="0.7"/>
<circle cx="56.60" cy="362.75" r="4.10" fill="#0f4c86" stroke="#0d4478" stroke-width="0.7"/>
<circle cx="54.50" cy="377.00" r="4.10" fill="#0f4c86" stroke="#0d4478" stroke-width="0.7"/>
<circle cx="103.40" cy="391.25" r="4.10" fill="#dd7789" stroke="#c66b7b" stroke-width="0.7"/>
<circle cx="101.30" cy="405.50" r="4.10" fill="#dd7789" stroke="#c66b7b" stroke-width="0.7"/>
<circle cx="122.30" cy="419.75" r="4.10" fill="#c8102e" stroke="#b40e29" stroke-width="0.7"/>
<circle cx="120.80" cy="434.00" r="4.10" fill="#c8102e" stroke="#b40e29" stroke-width="0.7"/>
<line x1="184.60" y1="341.20" x2="184.60" y2="441.00" stroke="#888" stroke-width="1.0"/>
<rect x="140.00" y="341.20" width="89.20" height="99.80" fill="none" stroke="#1a1a1a" stroke-width="1.2"/>
<line x1="143.10" y1="441.00" x2="143.10" y2="444.00" stroke="#1a1a1a" stroke-width="1"/>
<text x="143.10" y="453.30" font-size="8.3" stroke="#231f20" stroke-width="0.15" text-anchor="middle">−3</text>
<line x1="156.90" y1="441.00" x2="156.90" y2="444.00" stroke="#1a1a1a" stroke-width="1"/>
<text x="156.90" y="453.30" font-size="8.3" stroke="#231f20" stroke-width="0.15" text-anchor="middle">−2</text>
<line x1="170.70" y1="441.00" x2="170.70" y2="444.00" stroke="#1a1a1a" stroke-width="1"/>
<text x="170.70" y="453.30" font-size="8.3" stroke="#231f20" stroke-width="0.15" text-anchor="middle">−1</text>
<line x1="184.50" y1="441.00" x2="184.50" y2="444.00" stroke="#1a1a1a" stroke-width="1"/>
<text x="184.50" y="453.30" font-size="8.3" stroke="#231f20" stroke-width="0.15" text-anchor="middle">0</text>
<line x1="198.30" y1="441.00" x2="198.30" y2="444.00" stroke="#1a1a1a" stroke-width="1"/>
<text x="198.30" y="453.30" font-size="8.3" stroke="#231f20" stroke-width="0.15" text-anchor="middle">1</text>
<line x1="212.10" y1="441.00" x2="212.10" y2="444.00" stroke="#1a1a1a" stroke-width="1"/>
<text x="212.10" y="453.30" font-size="8.3" stroke="#231f20" stroke-width="0.15" text-anchor="middle">2</text>
<line x1="225.90" y1="441.00" x2="225.90" y2="444.00" stroke="#1a1a1a" stroke-width="1"/>
<text x="225.90" y="453.30" font-size="8.3" stroke="#231f20" stroke-width="0.15" text-anchor="middle">3</text>
<text x="184.80" y="466.20" font-size="10.2" stroke="#231f20" stroke-width="0.15" text-anchor="middle" textLength="12.80" lengthAdjust="spacingAndGlyphs">NES</text>
<circle cx="170.80" cy="348.50" r="4.10" fill="#c3d5e6" stroke="#afbfcf" stroke-width="0.7"/>
<circle cx="156.80" cy="362.75" r="4.10" fill="#0f4c86" stroke="#0d4478" stroke-width="0.7"/>
<circle cx="154.70" cy="377.00" r="4.10" fill="#0f4c86" stroke="#0d4478" stroke-width="0.7"/>
<circle cx="213.10" cy="391.25" r="4.10" fill="#c8102e" stroke="#b40e29" stroke-width="0.7"/>
<circle cx="212.10" cy="405.50" r="4.10" fill="#c8102e" stroke="#b40e29" stroke-width="0.7"/>
<circle cx="222.00" cy="419.75" r="4.10" fill="#c8102e" stroke="#b40e29" stroke-width="0.7"/>
<circle cx="221.70" cy="434.00" r="4.10" fill="#c8102e" stroke="#b40e29" stroke-width="0.7"/>
<line x1="229.20" y1="348.50" x2="232.50" y2="348.50" stroke="#1a1a1a" stroke-width="1"/>
<text x="235.90" y="351.20" font-size="8.4" stroke="#231f20" stroke-width="0.15" textLength="105.10" lengthAdjust="spacingAndGlyphs">QUIGLEY<tspan dy="-0.9">_</tspan><tspan dy="0.9">HIV</tspan><tspan dy="-0.9">_</tspan><tspan dy="0.9">PROGRESSOR</tspan></text>
<line x1="229.20" y1="362.75" x2="232.50" y2="362.75" stroke="#1a1a1a" stroke-width="1"/>
<text x="235.90" y="365.45" font-size="8.4" stroke="#231f20" stroke-width="0.15" textLength="101.60" lengthAdjust="spacingAndGlyphs">GUO<tspan dy="-0.9">_</tspan><tspan dy="0.9">CD8</tspan><tspan dy="-0.9">_</tspan><tspan dy="0.9">EXHAUSTED</tspan><tspan dy="-0.9">_</tspan><tspan dy="0.9">UP</tspan></text>
<line x1="229.20" y1="377.00" x2="232.50" y2="377.00" stroke="#1a1a1a" stroke-width="1"/>
<text x="235.90" y="379.70" font-size="8.4" stroke="#231f20" stroke-width="0.15" textLength="115.60" lengthAdjust="spacingAndGlyphs">ZHANG<tspan dy="-0.9">_</tspan><tspan dy="0.9">CD8</tspan><tspan dy="-0.9">_</tspan><tspan dy="0.9">EXHAUSTION</tspan><tspan dy="-0.9">_</tspan><tspan dy="0.9">UP</tspan></text>
<line x1="229.20" y1="391.25" x2="232.50" y2="391.25" stroke="#1a1a1a" stroke-width="1"/>
<text x="235.90" y="393.95" font-size="8.4" stroke="#231f20" stroke-width="0.15" textLength="82.30" lengthAdjust="spacingAndGlyphs">GUO<tspan dy="-0.9">_</tspan><tspan dy="0.9">CD8-C3-CX3CR1</tspan></text>
<line x1="229.20" y1="405.50" x2="232.50" y2="405.50" stroke="#1a1a1a" stroke-width="1"/>
<text x="235.90" y="408.20" font-size="8.4" stroke="#231f20" stroke-width="0.15" textLength="97.30" lengthAdjust="spacingAndGlyphs">ZHANG<tspan dy="-0.9">_</tspan><tspan dy="0.9">CD8</tspan><tspan dy="-0.9">_</tspan><tspan dy="0.9">C03-CX3CR1</tspan></text>
<line x1="229.20" y1="419.75" x2="232.50" y2="419.75" stroke="#1a1a1a" stroke-width="1"/>
<text x="235.90" y="422.45" font-size="8.4" stroke="#231f20" stroke-width="0.15" textLength="69.80" lengthAdjust="spacingAndGlyphs">GUO<tspan dy="-0.9">_</tspan><tspan dy="0.9">CD8-C1-LEF1</tspan></text>
<line x1="229.20" y1="434.00" x2="232.50" y2="434.00" stroke="#1a1a1a" stroke-width="1"/>
<text x="235.90" y="436.70" font-size="8.4" stroke="#231f20" stroke-width="0.15" textLength="84.60" lengthAdjust="spacingAndGlyphs">ZHANG<tspan dy="-0.9">_</tspan><tspan dy="0.9">CD8</tspan><tspan dy="-0.9">_</tspan><tspan dy="0.9">C01-LEF1</tspan></text>
<rect x="35.90" y="341.20" width="2.60" height="41.10" fill="#0f4c8d"/>
<rect x="35.90" y="384.00" width="2.60" height="27.80" fill="#c8102e"/>
<rect x="35.90" y="413.80" width="2.60" height="27.20" fill="#3cb54a"/>
<text x="33.00" y="389.60" font-size="8.6" stroke="#231f20" stroke-width="0.15" text-anchor="middle" textLength="96.30" lengthAdjust="spacingAndGlyphs" transform="rotate(-90 33.00 389.60)">Naive Activated Exhausted</text>
<text x="8.00" y="495.20" font-size="11.3" fill="#000" stroke="#000" stroke-width="0.15" textLength="6.00" lengthAdjust="spacingAndGlyphs" font-weight="bold">F</text>
<text x="84.60" y="496.20" font-size="8.1" stroke="#231f20" stroke-width="0.15" text-anchor="middle" textLength="82.00" lengthAdjust="spacingAndGlyphs">No GVHD (day 180) vs.</text>
<text x="84.60" y="505.70" font-size="8.1" stroke="#231f20" stroke-width="0.15" text-anchor="middle" textLength="54.00" lengthAdjust="spacingAndGlyphs">GVHD (day 30)</text>
<text x="185.00" y="496.20" font-size="8.1" stroke="#231f20" stroke-width="0.15" text-anchor="middle" textLength="82.00" lengthAdjust="spacingAndGlyphs">No GVHD (day 180) vs.</text>
<text x="185.00" y="505.70" font-size="8.1" stroke="#231f20" stroke-width="0.15" text-anchor="middle" textLength="66.50" lengthAdjust="spacingAndGlyphs">No GVHD (day 30)</text>
<line x1="84.70" y1="509.50" x2="84.70" y2="609.60" stroke="#888" stroke-width="1.0"/>
<rect x="40.10" y="509.50" width="89.10" height="100.10" fill="none" stroke="#1a1a1a" stroke-width="1.2"/>
<line x1="48.50" y1="609.60" x2="48.50" y2="612.60" stroke="#1a1a1a" stroke-width="1"/>
<text x="48.50" y="621.90" font-size="8.3" stroke="#231f20" stroke-width="0.15" text-anchor="middle">−3</text>
<line x1="60.60" y1="609.60" x2="60.60" y2="612.60" stroke="#1a1a1a" stroke-width="1"/>
<text x="60.60" y="621.90" font-size="8.3" stroke="#231f20" stroke-width="0.15" text-anchor="middle">−2</text>
<line x1="72.70" y1="609.60" x2="72.70" y2="612.60" stroke="#1a1a1a" stroke-width="1"/>
<text x="72.70" y="621.90" font-size="8.3" stroke="#231f20" stroke-width="0.15" text-anchor="middle">−1</text>
<line x1="84.80" y1="609.60" x2="84.80" y2="612.60" stroke="#1a1a1a" stroke-width="1"/>
<text x="84.80" y="621.90" font-size="8.3" stroke="#231f20" stroke-width="0.15" text-anchor="middle">0</text>
<line x1="96.90" y1="609.60" x2="96.90" y2="612.60" stroke="#1a1a1a" stroke-width="1"/>
<text x="96.90" y="621.90" font-size="8.3" stroke="#231f20" stroke-width="0.15" text-anchor="middle">1</text>
<line x1="109.00" y1="609.60" x2="109.00" y2="612.60" stroke="#1a1a1a" stroke-width="1"/>
<text x="109.00" y="621.90" font-size="8.3" stroke="#231f20" stroke-width="0.15" text-anchor="middle">2</text>
<line x1="121.10" y1="609.60" x2="121.10" y2="612.60" stroke="#1a1a1a" stroke-width="1"/>
<text x="121.10" y="621.90" font-size="8.3" stroke="#231f20" stroke-width="0.15" text-anchor="middle">3</text>
<text x="85.10" y="634.80" font-size="10.2" stroke="#231f20" stroke-width="0.15" text-anchor="middle" textLength="12.80" lengthAdjust="spacingAndGlyphs">NES</text>
<circle cx="65.90" cy="516.60" r="4.10" fill="#0f4c86" stroke="#0d4478" stroke-width="0.7"/>
<circle cx="67.20" cy="530.88" r="4.10" fill="#c3d5e6" stroke="#afbfcf" stroke-width="0.7"/>
<circle cx="58.60" cy="545.16" r="4.10" fill="#0f4c86" stroke="#0d4478" stroke-width="0.7"/>
<circle cx="65.30" cy="559.44" r="4.10" fill="#0f4c86" stroke="#0d4478" stroke-width="0.7"/>
<circle cx="57.20" cy="573.72" r="4.10" fill="#0f4c86" stroke="#0d4478" stroke-width="0.7"/>
<circle cx="122.00" cy="588.00" r="4.10" fill="#c8102e" stroke="#b40e29" stroke-width="0.7"/>
<circle cx="122.50" cy="602.28" r="4.10" fill="#c8102e" stroke="#b40e29" stroke-width="0.7"/>
<line x1="185.30" y1="509.50" x2="185.30" y2="609.60" stroke="#888" stroke-width="1.0"/>
<rect x="140.80" y="509.50" width="88.60" height="100.10" fill="none" stroke="#1a1a1a" stroke-width="1.2"/>
<line x1="163.20" y1="609.60" x2="163.20" y2="612.60" stroke="#1a1a1a" stroke-width="1"/>
<text x="163.20" y="621.90" font-size="8.3" stroke="#231f20" stroke-width="0.15" text-anchor="middle">−2</text>
<line x1="185.00" y1="609.60" x2="185.00" y2="612.60" stroke="#1a1a1a" stroke-width="1"/>
<text x="185.00" y="621.90" font-size="8.3" stroke="#231f20" stroke-width="0.15" text-anchor="middle">0</text>
<line x1="206.80" y1="609.60" x2="206.80" y2="612.60" stroke="#1a1a1a" stroke-width="1"/>
<text x="206.80" y="621.90" font-size="8.3" stroke="#231f20" stroke-width="0.15" text-anchor="middle">2</text>
<text x="185.30" y="634.80" font-size="10.2" stroke="#231f20" stroke-width="0.15" text-anchor="middle" textLength="12.80" lengthAdjust="spacingAndGlyphs">NES</text>
<circle cx="167.00" cy="516.60" r="4.10" fill="#0f4c86" stroke="#0d4478" stroke-width="0.7"/>
<circle cx="170.30" cy="530.88" r="4.10" fill="#c3d5e6" stroke="#afbfcf" stroke-width="0.7"/>
<circle cx="191.70" cy="545.16" r="4.10" fill="#f2c3cc" stroke="#d9afb7" stroke-width="0.7"/>
<circle cx="196.40" cy="559.44" r="4.10" fill="#dd7789" stroke="#c66b7b" stroke-width="0.7"/>
<circle cx="170.30" cy="573.72" r="4.10" fill="#0f4c86" stroke="#0d4478" stroke-width="0.7"/>
<circle cx="222.90" cy="588.00" r="4.10" fill="#c8102e" stroke="#b40e29" stroke-width="0.7"/>
<circle cx="222.10" cy="602.28" r="4.10" fill="#c8102e" stroke="#b40e29" stroke-width="0.7"/>
<line x1="229.40" y1="516.60" x2="232.70" y2="516.60" stroke="#1a1a1a" stroke-width="1"/>
<text x="235.90" y="519.30" font-size="8.4" stroke="#231f20" stroke-width="0.15" textLength="114.10" lengthAdjust="spacingAndGlyphs">CRAWFORD<tspan dy="-0.9">_</tspan><tspan dy="0.9">EXHAUSTED</tspan><tspan dy="-0.9">_</tspan><tspan dy="0.9">CD4</tspan></text>
<line x1="229.40" y1="530.88" x2="232.70" y2="530.88" stroke="#1a1a1a" stroke-width="1"/>
<text x="235.90" y="533.58" font-size="8.4" stroke="#231f20" stroke-width="0.15" textLength="101.10" lengthAdjust="spacingAndGlyphs">GUO<tspan dy="-0.9">_</tspan><tspan dy="0.9">CD4</tspan><tspan dy="-0.9">_</tspan><tspan dy="0.9">EXHAUSTED</tspan><tspan dy="-0.9">_</tspan><tspan dy="0.9">UP</tspan></text>
<line x1="229.40" y1="545.16" x2="232.70" y2="545.16" stroke="#1a1a1a" stroke-width="1"/>
<text x="235.90" y="547.86" font-size="8.4" stroke="#231f20" stroke-width="0.15" textLength="76.30" lengthAdjust="spacingAndGlyphs">GUO<tspan dy="-0.9">_</tspan><tspan dy="0.9">CD4</tspan><tspan dy="-0.9">_</tspan><tspan dy="0.9">C3</tspan><tspan dy="-0.9">_</tspan><tspan dy="0.9">GNLY</tspan></text>
<line x1="229.40" y1="559.44" x2="232.70" y2="559.44" stroke="#1a1a1a" stroke-width="1"/>
<text x="235.90" y="562.14" font-size="8.4" stroke="#231f20" stroke-width="0.15" textLength="90.60" lengthAdjust="spacingAndGlyphs">ZHANG<tspan dy="-0.9">_</tspan><tspan dy="0.9">CD4</tspan><tspan dy="-0.9">_</tspan><tspan dy="0.9">C03</tspan><tspan dy="-0.9">_</tspan><tspan dy="0.9">GNLY</tspan></text>
<line x1="229.40" y1="573.72" x2="232.70" y2="573.72" stroke="#1a1a1a" stroke-width="1"/>
<text x="235.90" y="576.42" font-size="8.4" stroke="#231f20" stroke-width="0.15" textLength="89.30" lengthAdjust="spacingAndGlyphs">ZHANG<tspan dy="-0.9">_</tspan><tspan dy="0.9">CD4</tspan><tspan dy="-0.9">_</tspan><tspan dy="0.9">C08</tspan><tspan dy="-0.9">_</tspan><tspan dy="0.9">IL23R</tspan></text>
<line x1="229.40" y1="588.00" x2="232.70" y2="588.00" stroke="#1a1a1a" stroke-width="1"/>
<text x="235.90" y="590.70" font-size="8.4" stroke="#231f20" stroke-width="0.15" textLength="75.80" lengthAdjust="spacingAndGlyphs">GUO<tspan dy="-0.9">_</tspan><tspan dy="0.9">CD4</tspan><tspan dy="-0.9">_</tspan><tspan dy="0.9">C1</tspan><tspan dy="-0.9">_</tspan><tspan dy="0.9">CCR7</tspan></text>
<line x1="229.40" y1="602.28" x2="232.70" y2="602.28" stroke="#1a1a1a" stroke-width="1"/>
<text x="235.90" y="604.98" font-size="8.4" stroke="#231f20" stroke-width="0.15" textLength="90.10" lengthAdjust="spacingAndGlyphs">ZHANG<tspan dy="-0.9">_</tspan><tspan dy="0.9">CD4</tspan><tspan dy="-0.9">_</tspan><tspan dy="0.9">C01</tspan><tspan dy="-0.9">_</tspan><tspan dy="0.9">CCR7</tspan></text>
<rect x="35.90" y="509.50" width="2.60" height="41.80" fill="#0f4c8d"/>
<rect x="35.90" y="552.70" width="2.60" height="27.10" fill="#c8102e"/>
<rect x="35.90" y="581.70" width="2.60" height="27.90" fill="#3cb54a"/>
<text x="33.00" y="558.05" font-size="8.6" stroke="#231f20" stroke-width="0.15" text-anchor="middle" textLength="96.30" lengthAdjust="spacingAndGlyphs" transform="rotate(-90 33.00 558.05)">Naive Activated Exhausted</text>
<rect x="0.5" y="0.5" width="518.8" height="643.8" fill="none" stroke="#000" stroke-width="1.2"/>
</svg>
</body></html>
